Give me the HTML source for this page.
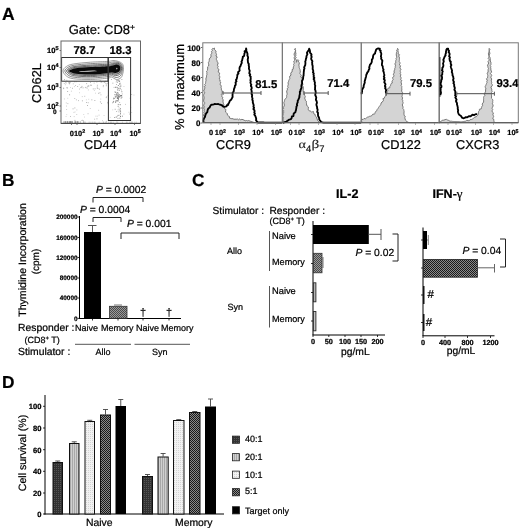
<!DOCTYPE html><html><head><meta charset="utf-8"><style>html,body{margin:0;padding:0;background:#fff}svg{display:block;filter:grayscale(1)}text{text-rendering:geometricPrecision;stroke:#000;stroke-width:.22px}text,tspan{font-family:"Liberation Sans",sans-serif}.sf,.sf tspan{font-family:"Liberation Serif",serif}tspan.sf{font-family:"Liberation Serif",serif}</style></head><body><svg width="520" height="528" viewBox="0 0 520 528">
<defs>
<pattern id="pchk" width="2" height="2" patternUnits="userSpaceOnUse"><rect width="2" height="2" fill="#9a9a9a"/><rect width="1" height="1" fill="#4a4a4a"/><rect x="1" y="1" width="1" height="1" fill="#4a4a4a"/></pattern>
<pattern id="pcross" width="2" height="2" patternUnits="userSpaceOnUse"><rect width="2" height="2" fill="#8a8a8a"/><rect width="1" height="1" fill="#1a1a1a"/><rect x="1" y="1" width="1" height="1" fill="#1a1a1a"/></pattern>
<pattern id="pdark" width="2" height="2" patternUnits="userSpaceOnUse"><rect width="2" height="2" fill="#333"/><rect width="1" height="1" fill="#555"/></pattern>
<pattern id="pvs" width="2" height="2" patternUnits="userSpaceOnUse"><rect width="2" height="2" fill="#d0d0d0"/><rect width="1" height="2" fill="#a8a8a8"/></pattern>
<pattern id="pdot" width="2" height="2" patternUnits="userSpaceOnUse"><rect width="2" height="2" fill="#f2f2f2"/><rect width="1" height="1" fill="#d4d4d4"/></pattern>
</defs>
<rect width="520" height="528" fill="#fff"/>
<g>
<text x="2" y="20.2" font-size="17.5" font-weight="bold" text-anchor="start" fill="#000" class="ss"  >A</text>
<text x="2" y="185.5" font-size="17.3" font-weight="bold" text-anchor="start" fill="#000" class="ss"  >B</text>
<text x="192" y="185.8" font-size="17.3" font-weight="bold" text-anchor="start" fill="#000" class="ss"  >C</text>
<text x="2" y="388.3" font-size="17.3" font-weight="bold" text-anchor="start" fill="#000" class="ss"  >D</text>
<text x="68.7" y="34" font-size="13.0" font-weight="normal" text-anchor="start" fill="#000" class="ss"  >Gate: CD8<tspan font-size="8.5" dy="-4.5">+</tspan></text>
<rect x="87.3" y="86.2" width="0.9" height="0.9" fill="#b4b4b4"/>
<rect x="105.8" y="83.9" width="0.9" height="0.9" fill="#c4c4c4"/>
<rect x="67.3" y="97.8" width="0.9" height="0.9" fill="#d0d0d0"/>
<rect x="67.4" y="103.2" width="0.9" height="0.9" fill="#b4b4b4"/>
<rect x="106.3" y="96.3" width="0.9" height="0.9" fill="#b4b4b4"/>
<rect x="88.4" y="85.5" width="0.9" height="0.9" fill="#a4a4a4"/>
<rect x="89.8" y="108.0" width="0.9" height="0.9" fill="#c4c4c4"/>
<rect x="65.8" y="102.5" width="0.9" height="0.9" fill="#c4c4c4"/>
<rect x="100.2" y="101.8" width="0.9" height="0.9" fill="#d0d0d0"/>
<rect x="100.3" y="98.6" width="0.9" height="0.9" fill="#c4c4c4"/>
<rect x="79.1" y="92.3" width="0.9" height="0.9" fill="#d0d0d0"/>
<rect x="82.7" y="120.2" width="0.9" height="0.9" fill="#a4a4a4"/>
<rect x="94.4" y="100.0" width="0.9" height="0.9" fill="#a4a4a4"/>
<rect x="100.5" y="94.4" width="0.9" height="0.9" fill="#b4b4b4"/>
<rect x="94.2" y="118.7" width="0.9" height="0.9" fill="#b4b4b4"/>
<rect x="95.0" y="92.7" width="0.9" height="0.9" fill="#d0d0d0"/>
<rect x="84.3" y="95.8" width="0.9" height="0.9" fill="#b4b4b4"/>
<rect x="133.5" y="94.6" width="0.9" height="0.9" fill="#d0d0d0"/>
<rect x="74.6" y="111.5" width="0.9" height="0.9" fill="#d0d0d0"/>
<rect x="81.9" y="100.4" width="0.9" height="0.9" fill="#a4a4a4"/>
<rect x="129.3" y="113.6" width="0.9" height="0.9" fill="#a4a4a4"/>
<rect x="116.0" y="120.4" width="0.9" height="0.9" fill="#d0d0d0"/>
<rect x="73.9" y="86.2" width="0.9" height="0.9" fill="#c4c4c4"/>
<rect x="76.3" y="114.1" width="0.9" height="0.9" fill="#c4c4c4"/>
<rect x="107.8" y="95.1" width="0.9" height="0.9" fill="#b4b4b4"/>
<rect x="97.2" y="115.7" width="0.9" height="0.9" fill="#d0d0d0"/>
<rect x="81.8" y="96.2" width="0.9" height="0.9" fill="#c4c4c4"/>
<rect x="79.0" y="88.6" width="0.9" height="0.9" fill="#b4b4b4"/>
<rect x="107.6" y="103.2" width="0.9" height="0.9" fill="#b4b4b4"/>
<rect x="92.8" y="88.5" width="0.9" height="0.9" fill="#a4a4a4"/>
<rect x="85.9" y="99.4" width="0.9" height="0.9" fill="#d0d0d0"/>
<rect x="98.2" y="92.8" width="0.9" height="0.9" fill="#a4a4a4"/>
<rect x="72.6" y="108.4" width="0.9" height="0.9" fill="#a4a4a4"/>
<rect x="87.8" y="102.3" width="0.9" height="0.9" fill="#b4b4b4"/>
<rect x="70.9" y="90.7" width="0.9" height="0.9" fill="#c4c4c4"/>
<rect x="73.5" y="111.9" width="0.9" height="0.9" fill="#c4c4c4"/>
<rect x="123.5" y="113.6" width="0.9" height="0.9" fill="#c4c4c4"/>
<rect x="78.0" y="100.2" width="0.9" height="0.9" fill="#b4b4b4"/>
<rect x="91.4" y="99.4" width="0.9" height="0.9" fill="#a4a4a4"/>
<rect x="96.5" y="118.4" width="0.9" height="0.9" fill="#a4a4a4"/>
<rect x="78.9" y="84.2" width="0.9" height="0.9" fill="#d0d0d0"/>
<rect x="109.8" y="116.9" width="0.9" height="0.9" fill="#d0d0d0"/>
<rect x="131.2" y="94.1" width="0.9" height="0.9" fill="#b4b4b4"/>
<rect x="131.2" y="112.1" width="0.9" height="0.9" fill="#d0d0d0"/>
<rect x="129.7" y="97.8" width="0.9" height="0.9" fill="#b4b4b4"/>
<rect x="81.9" y="119.8" width="0.9" height="0.9" fill="#b4b4b4"/>
<rect x="70.1" y="87.0" width="0.9" height="0.9" fill="#d0d0d0"/>
<rect x="123.5" y="86.0" width="0.9" height="0.9" fill="#d0d0d0"/>
<rect x="69.2" y="94.4" width="0.9" height="0.9" fill="#b4b4b4"/>
<rect x="98.2" y="109.8" width="0.9" height="0.9" fill="#c4c4c4"/>
<rect x="95.5" y="115.7" width="0.9" height="0.9" fill="#c4c4c4"/>
<rect x="98.9" y="88.7" width="0.9" height="0.9" fill="#a4a4a4"/>
<rect x="105.8" y="97.2" width="0.9" height="0.9" fill="#a4a4a4"/>
<rect x="130.3" y="107.2" width="0.9" height="0.9" fill="#d0d0d0"/>
<rect x="70.1" y="116.0" width="0.9" height="0.9" fill="#b4b4b4"/>
<rect x="128.5" y="111.8" width="0.9" height="0.9" fill="#c4c4c4"/>
<rect x="75.9" y="99.4" width="0.9" height="0.9" fill="#b4b4b4"/>
<rect x="99.9" y="101.3" width="0.9" height="0.9" fill="#b4b4b4"/>
<rect x="65.0" y="82.3" width="0.9" height="0.9" fill="#b4b4b4"/>
<rect x="101.1" y="103.0" width="0.9" height="0.9" fill="#b4b4b4"/>
<rect x="87.1" y="105.1" width="0.9" height="0.9" fill="#a4a4a4"/>
<rect x="107.3" y="101.9" width="0.9" height="0.9" fill="#a4a4a4"/>
<rect x="84.0" y="116.6" width="0.9" height="0.9" fill="#d0d0d0"/>
<rect x="74.3" y="98.1" width="0.9" height="0.9" fill="#b4b4b4"/>
<rect x="99.5" y="92.4" width="0.9" height="0.9" fill="#a4a4a4"/>
<rect x="73.7" y="116.2" width="0.9" height="0.9" fill="#c4c4c4"/>
<rect x="119.0" y="83.9" width="0.9" height="0.9" fill="#c4c4c4"/>
<rect x="83.3" y="114.1" width="0.9" height="0.9" fill="#d0d0d0"/>
<rect x="96.9" y="88.0" width="0.9" height="0.9" fill="#b4b4b4"/>
<rect x="88.3" y="98.8" width="0.9" height="0.9" fill="#d0d0d0"/>
<rect x="66.0" y="105.6" width="0.9" height="0.9" fill="#c4c4c4"/>
<rect x="64.9" y="84.3" width="0.9" height="0.9" fill="#c4c4c4"/>
<rect x="105.8" y="85.3" width="0.9" height="0.9" fill="#a4a4a4"/>
<rect x="86.2" y="102.0" width="0.9" height="0.9" fill="#a4a4a4"/>
<rect x="69.7" y="82.4" width="0.9" height="0.9" fill="#d0d0d0"/>
<rect x="67.2" y="91.0" width="0.9" height="0.9" fill="#a4a4a4"/>
<rect x="103.6" y="115.1" width="0.9" height="0.9" fill="#d0d0d0"/>
<rect x="106.0" y="120.8" width="0.9" height="0.9" fill="#c4c4c4"/>
<rect x="66.2" y="109.1" width="0.9" height="0.9" fill="#c4c4c4"/>
<rect x="82.6" y="87.4" width="0.9" height="0.9" fill="#a4a4a4"/>
<rect x="94.6" y="88.4" width="0.9" height="0.9" fill="#a4a4a4"/>
<rect x="63.7" y="80.7" width="0.9" height="0.9" fill="#c4c4c4"/>
<rect x="93.9" y="90.1" width="0.9" height="0.9" fill="#d0d0d0"/>
<rect x="112.2" y="102.4" width="0.9" height="0.9" fill="#a4a4a4"/>
<rect x="102.1" y="120.3" width="0.9" height="0.9" fill="#c4c4c4"/>
<rect x="69.1" y="94.2" width="0.9" height="0.9" fill="#b4b4b4"/>
<rect x="65.6" y="116.1" width="0.9" height="0.9" fill="#d0d0d0"/>
<rect x="74.4" y="107.5" width="0.9" height="0.9" fill="#a4a4a4"/>
<rect x="63.2" y="87.6" width="0.9" height="0.9" fill="#a4a4a4"/>
<rect x="74.5" y="119.9" width="0.9" height="0.9" fill="#a4a4a4"/>
<rect x="66.9" y="87.5" width="0.9" height="0.9" fill="#a4a4a4"/>
<rect x="63.2" y="88.2" width="0.9" height="0.9" fill="#a4a4a4"/>
<rect x="81.5" y="85.9" width="0.9" height="0.9" fill="#a4a4a4"/>
<rect x="87.9" y="89.5" width="0.9" height="0.9" fill="#c4c4c4"/>
<rect x="112.3" y="109.4" width="0.9" height="0.9" fill="#d0d0d0"/>
<rect x="76.4" y="109.5" width="0.9" height="0.9" fill="#c4c4c4"/>
<rect x="66.3" y="114.2" width="0.9" height="0.9" fill="#d0d0d0"/>
<rect x="87.6" y="113.3" width="0.9" height="0.9" fill="#b4b4b4"/>
<rect x="125.0" y="103.9" width="0.9" height="0.9" fill="#c4c4c4"/>
<rect x="69.4" y="81.7" width="0.9" height="0.9" fill="#b4b4b4"/>
<rect x="63.9" y="98.5" width="0.9" height="0.9" fill="#c4c4c4"/>
<rect x="99.7" y="80.1" width="0.9" height="0.9" fill="#b4b4b4"/>
<rect x="112.4" y="82.7" width="0.9" height="0.9" fill="#a4a4a4"/>
<rect x="98.6" y="114.7" width="0.9" height="0.9" fill="#c4c4c4"/>
<rect x="81.0" y="120.0" width="0.9" height="0.9" fill="#d0d0d0"/>
<rect x="104.0" y="81.6" width="0.9" height="0.9" fill="#999"/>
<rect x="90.8" y="84.8" width="0.9" height="0.9" fill="#999"/>
<rect x="90.0" y="82.0" width="0.9" height="0.9" fill="#bbb"/>
<rect x="96.4" y="81.7" width="0.9" height="0.9" fill="#bbb"/>
<rect x="69.0" y="83.3" width="0.9" height="0.9" fill="#aaa"/>
<rect x="75.1" y="85.0" width="0.9" height="0.9" fill="#bbb"/>
<rect x="72.8" y="83.4" width="0.9" height="0.9" fill="#bbb"/>
<rect x="86.2" y="83.2" width="0.9" height="0.9" fill="#aaa"/>
<rect x="97.5" y="87.9" width="0.9" height="0.9" fill="#bbb"/>
<rect x="72.0" y="87.8" width="0.9" height="0.9" fill="#aaa"/>
<rect x="63.8" y="83.1" width="0.9" height="0.9" fill="#bbb"/>
<rect x="106.6" y="83.0" width="0.9" height="0.9" fill="#aaa"/>
<rect x="80.4" y="87.2" width="0.9" height="0.9" fill="#999"/>
<rect x="66.4" y="79.8" width="0.9" height="0.9" fill="#bbb"/>
<rect x="86.6" y="87.6" width="0.9" height="0.9" fill="#999"/>
<rect x="90.2" y="84.7" width="0.9" height="0.9" fill="#aaa"/>
<rect x="102.9" y="85.3" width="0.9" height="0.9" fill="#999"/>
<rect x="85.4" y="86.9" width="0.9" height="0.9" fill="#aaa"/>
<rect x="64.1" y="79.0" width="0.9" height="0.9" fill="#aaa"/>
<rect x="93.7" y="82.6" width="0.9" height="0.9" fill="#bbb"/>
<rect x="69.3" y="82.1" width="0.9" height="0.9" fill="#aaa"/>
<rect x="68.4" y="82.0" width="0.9" height="0.9" fill="#aaa"/>
<rect x="96.8" y="86.6" width="0.9" height="0.9" fill="#999"/>
<rect x="105.3" y="80.8" width="0.9" height="0.9" fill="#999"/>
<rect x="103.6" y="81.6" width="0.9" height="0.9" fill="#aaa"/>
<rect x="65.9" y="82.5" width="0.9" height="0.9" fill="#bbb"/>
<rect x="66.4" y="87.3" width="0.9" height="0.9" fill="#aaa"/>
<rect x="101.4" y="81.5" width="0.9" height="0.9" fill="#999"/>
<rect x="100.6" y="81.6" width="0.9" height="0.9" fill="#999"/>
<rect x="74.2" y="81.4" width="0.9" height="0.9" fill="#bbb"/>
<rect x="77.2" y="86.0" width="0.9" height="0.9" fill="#aaa"/>
<rect x="102.8" y="86.3" width="0.9" height="0.9" fill="#bbb"/>
<rect x="81.0" y="86.9" width="0.9" height="0.9" fill="#bbb"/>
<rect x="87.7" y="85.5" width="0.9" height="0.9" fill="#999"/>
<rect x="105.0" y="82.7" width="0.9" height="0.9" fill="#bbb"/>
<rect x="96.9" y="84.8" width="0.9" height="0.9" fill="#aaa"/>
<rect x="84.9" y="87.2" width="0.9" height="0.9" fill="#bbb"/>
<rect x="68.7" y="83.2" width="0.9" height="0.9" fill="#aaa"/>
<rect x="75.7" y="81.3" width="0.9" height="0.9" fill="#bbb"/>
<rect x="106.9" y="81.3" width="0.9" height="0.9" fill="#bbb"/>
<rect x="117.7" y="105.8" width="0.9" height="0.9" fill="#777"/>
<rect x="120.5" y="85.7" width="0.9" height="0.9" fill="#999"/>
<rect x="120.2" y="111.5" width="0.9" height="0.9" fill="#999"/>
<rect x="118.9" y="97.1" width="0.9" height="0.9" fill="#aaa"/>
<rect x="120.3" y="84.6" width="0.9" height="0.9" fill="#999"/>
<rect x="117.4" y="88.8" width="0.9" height="0.9" fill="#999"/>
<rect x="116.9" y="88.6" width="0.9" height="0.9" fill="#aaa"/>
<rect x="118.5" y="111.4" width="0.9" height="0.9" fill="#999"/>
<rect x="120.8" y="95.5" width="0.9" height="0.9" fill="#666"/>
<rect x="114.7" y="108.8" width="0.9" height="0.9" fill="#999"/>
<rect x="115.8" y="81.5" width="0.9" height="0.9" fill="#aaa"/>
<rect x="119.2" y="102.0" width="0.9" height="0.9" fill="#aaa"/>
<rect x="119.7" y="104.2" width="0.9" height="0.9" fill="#999"/>
<rect x="119.7" y="82.7" width="0.9" height="0.9" fill="#999"/>
<rect x="114.7" y="96.3" width="0.9" height="0.9" fill="#aaa"/>
<rect x="120.0" y="112.9" width="0.9" height="0.9" fill="#777"/>
<rect x="119.4" y="109.5" width="0.9" height="0.9" fill="#666"/>
<rect x="119.5" y="117.7" width="0.9" height="0.9" fill="#666"/>
<rect x="120.1" y="116.1" width="0.9" height="0.9" fill="#666"/>
<rect x="117.5" y="117.9" width="0.9" height="0.9" fill="#999"/>
<rect x="117.9" y="85.1" width="0.9" height="0.9" fill="#777"/>
<rect x="115.7" y="116.7" width="0.9" height="0.9" fill="#666"/>
<rect x="121.4" y="79.1" width="0.9" height="0.9" fill="#999"/>
<rect x="119.8" y="88.3" width="0.9" height="0.9" fill="#777"/>
<rect x="116.1" y="84.1" width="0.9" height="0.9" fill="#aaa"/>
<rect x="115.7" y="100.1" width="0.9" height="0.9" fill="#666"/>
<rect x="117.1" y="81.8" width="0.9" height="0.9" fill="#999"/>
<rect x="116.3" y="94.5" width="0.9" height="0.9" fill="#999"/>
<rect x="117.5" y="100.5" width="0.9" height="0.9" fill="#666"/>
<rect x="117.4" y="90.1" width="0.9" height="0.9" fill="#aaa"/>
<rect x="114.2" y="98.0" width="0.9" height="0.9" fill="#999"/>
<rect x="113.2" y="100.9" width="0.9" height="0.9" fill="#777"/>
<rect x="121.4" y="91.3" width="0.9" height="0.9" fill="#777"/>
<rect x="116.5" y="86.8" width="0.9" height="0.9" fill="#666"/>
<rect x="119.1" y="96.0" width="0.9" height="0.9" fill="#aaa"/>
<rect x="118.4" y="88.1" width="0.9" height="0.9" fill="#777"/>
<rect x="116.1" y="93.5" width="0.9" height="0.9" fill="#666"/>
<rect x="113.6" y="86.9" width="0.9" height="0.9" fill="#aaa"/>
<rect x="117.3" y="87.2" width="0.9" height="0.9" fill="#999"/>
<rect x="114.4" y="91.5" width="0.9" height="0.9" fill="#999"/>
<rect x="117.7" y="109.4" width="0.9" height="0.9" fill="#aaa"/>
<rect x="119.3" y="83.4" width="0.9" height="0.9" fill="#666"/>
<rect x="113.2" y="98.4" width="0.9" height="0.9" fill="#777"/>
<rect x="114.0" y="117.0" width="0.9" height="0.9" fill="#999"/>
<rect x="118.3" y="79.9" width="0.9" height="0.9" fill="#999"/>
<rect x="117.1" y="95.6" width="0.9" height="0.9" fill="#777"/>
<rect x="118.6" y="107.5" width="0.9" height="0.9" fill="#aaa"/>
<rect x="120.1" y="108.3" width="0.9" height="0.9" fill="#777"/>
<rect x="119.6" y="86.4" width="0.9" height="0.9" fill="#666"/>
<rect x="116.5" y="80.3" width="0.9" height="0.9" fill="#666"/>
<rect x="121.5" y="96.7" width="0.9" height="0.9" fill="#777"/>
<rect x="111.1" y="79.1" width="0.9" height="0.9" fill="#aaa"/>
<rect x="119.9" y="114.4" width="0.9" height="0.9" fill="#999"/>
<rect x="118.8" y="94.2" width="0.9" height="0.9" fill="#aaa"/>
<rect x="118.7" y="81.0" width="0.9" height="0.9" fill="#666"/>
<rect x="115.0" y="86.8" width="0.9" height="0.9" fill="#666"/>
<rect x="118.4" y="114.9" width="0.9" height="0.9" fill="#777"/>
<rect x="119.8" y="104.3" width="0.9" height="0.9" fill="#999"/>
<rect x="119.2" y="80.6" width="0.9" height="0.9" fill="#777"/>
<rect x="113.4" y="97.6" width="0.9" height="0.9" fill="#777"/>
<rect x="117.3" y="114.9" width="0.9" height="0.9" fill="#aaa"/>
<rect x="121.8" y="93.5" width="0.9" height="0.9" fill="#aaa"/>
<rect x="121.0" y="89.5" width="0.9" height="0.9" fill="#aaa"/>
<rect x="116.6" y="116.0" width="0.9" height="0.9" fill="#aaa"/>
<rect x="121.9" y="115.7" width="0.9" height="0.9" fill="#777"/>
<rect x="117.6" y="80.0" width="0.9" height="0.9" fill="#999"/>
<rect x="120.7" y="97.6" width="0.9" height="0.9" fill="#666"/>
<rect x="120.1" y="110.6" width="0.9" height="0.9" fill="#666"/>
<rect x="118.0" y="98.9" width="0.9" height="0.9" fill="#777"/>
<rect x="116.2" y="111.1" width="0.9" height="0.9" fill="#aaa"/>
<rect x="118.9" y="89.8" width="0.9" height="0.9" fill="#888"/>
<rect x="117.8" y="103.9" width="0.9" height="0.9" fill="#777"/>
<rect x="115.5" y="101.3" width="0.9" height="0.9" fill="#555"/>
<rect x="115.7" y="95.7" width="0.9" height="0.9" fill="#555"/>
<rect x="117.5" y="97.5" width="0.9" height="0.9" fill="#555"/>
<rect x="115.3" y="96.6" width="0.9" height="0.9" fill="#555"/>
<rect x="121.2" y="95.0" width="0.9" height="0.9" fill="#555"/>
<rect x="117.4" y="97.7" width="0.9" height="0.9" fill="#555"/>
<rect x="112.8" y="101.7" width="0.9" height="0.9" fill="#777"/>
<rect x="117.9" y="97.9" width="0.9" height="0.9" fill="#777"/>
<rect x="115.5" y="91.9" width="0.9" height="0.9" fill="#888"/>
<rect x="114.5" y="94.3" width="0.9" height="0.9" fill="#555"/>
<rect x="117.8" y="92.7" width="0.9" height="0.9" fill="#777"/>
<rect x="115.9" y="94.4" width="0.9" height="0.9" fill="#888"/>
<rect x="117.4" y="100.3" width="0.9" height="0.9" fill="#555"/>
<rect x="117.5" y="98.3" width="0.9" height="0.9" fill="#888"/>
<rect x="117.7" y="97.4" width="0.9" height="0.9" fill="#777"/>
<rect x="119.6" y="95.8" width="0.9" height="0.9" fill="#555"/>
<rect x="117.0" y="94.5" width="0.9" height="0.9" fill="#777"/>
<rect x="118.3" y="95.9" width="0.9" height="0.9" fill="#777"/>
<rect x="118.5" y="94.1" width="0.9" height="0.9" fill="#777"/>
<rect x="117.9" y="95.4" width="0.9" height="0.9" fill="#777"/>
<rect x="117.6" y="97.3" width="0.9" height="0.9" fill="#888"/>
<rect x="119.8" y="95.1" width="0.9" height="0.9" fill="#555"/>
<rect x="115.0" y="101.8" width="0.9" height="0.9" fill="#777"/>
<rect x="115.0" y="91.8" width="0.9" height="0.9" fill="#888"/>
<rect x="118.3" y="95.4" width="0.9" height="0.9" fill="#888"/>
<rect x="117.1" y="92.4" width="0.9" height="0.9" fill="#555"/>
<rect x="116.8" y="97.6" width="0.9" height="0.9" fill="#555"/>
<rect x="118.0" y="96.0" width="0.9" height="0.9" fill="#888"/>
<rect x="76.7" y="121.6" width="1.1" height="0.9" fill="#777"/>
<rect x="67.3" y="121.6" width="1.1" height="0.9" fill="#777"/>
<rect x="63.2" y="121.6" width="1.1" height="0.9" fill="#777"/>
<rect x="69.9" y="121.6" width="1.1" height="0.9" fill="#777"/>
<rect x="77.2" y="121.6" width="1.1" height="0.9" fill="#777"/>
<rect x="66.9" y="121.6" width="1.1" height="0.9" fill="#777"/>
<rect x="69.6" y="121.6" width="1.1" height="0.9" fill="#777"/>
<rect x="67.3" y="121.6" width="1.1" height="0.9" fill="#777"/>
<rect x="79.7" y="121.6" width="1.1" height="0.9" fill="#777"/>
<rect x="74.5" y="121.6" width="1.1" height="0.9" fill="#777"/>
<rect x="64.3" y="121.6" width="1.1" height="0.9" fill="#777"/>
<rect x="65.1" y="121.6" width="1.1" height="0.9" fill="#777"/>
<rect x="71.3" y="121.6" width="1.1" height="0.9" fill="#777"/>
<rect x="74.6" y="121.6" width="1.1" height="0.9" fill="#777"/>
<rect x="76.4" y="121.6" width="1.1" height="0.9" fill="#777"/>
<rect x="64.9" y="121.6" width="1.1" height="0.9" fill="#777"/>
<rect x="66.4" y="121.6" width="1.1" height="0.9" fill="#777"/>
<rect x="77.6" y="121.6" width="1.1" height="0.9" fill="#777"/>
<rect x="71.6" y="121.6" width="1.1" height="0.9" fill="#777"/>
<rect x="68.9" y="121.6" width="1.1" height="0.9" fill="#777"/>
<rect x="69.5" y="121.6" width="1.1" height="0.9" fill="#777"/>
<rect x="83.0" y="121.6" width="1.1" height="0.9" fill="#777"/>
<rect x="69.6" y="121.6" width="1.1" height="0.9" fill="#777"/>
<rect x="74.9" y="121.6" width="1.1" height="0.9" fill="#777"/>
<rect x="70.5" y="121.6" width="1.1" height="0.9" fill="#777"/>
<rect x="71.7" y="121.6" width="1.1" height="0.9" fill="#777"/>
<rect x="128.9" y="121.8" width="0.9" height="0.7" fill="#aaa"/>
<rect x="135.8" y="121.8" width="0.9" height="0.7" fill="#aaa"/>
<rect x="102.9" y="121.8" width="0.9" height="0.7" fill="#aaa"/>
<rect x="94.3" y="121.8" width="0.9" height="0.7" fill="#aaa"/>
<rect x="121.9" y="121.8" width="0.9" height="0.7" fill="#aaa"/>
<rect x="94.6" y="121.8" width="0.9" height="0.7" fill="#aaa"/>
<rect x="84.3" y="121.8" width="0.9" height="0.7" fill="#aaa"/>
<rect x="130.9" y="121.8" width="0.9" height="0.7" fill="#aaa"/>
<rect x="106.0" y="121.8" width="0.9" height="0.7" fill="#aaa"/>
<rect x="126.7" y="121.8" width="0.9" height="0.7" fill="#aaa"/>
<rect x="105.1" y="121.8" width="0.9" height="0.7" fill="#aaa"/>
<rect x="129.9" y="121.8" width="0.9" height="0.7" fill="#aaa"/>
<rect x="108.0" y="121.8" width="0.9" height="0.7" fill="#aaa"/>
<rect x="92.5" y="121.8" width="0.9" height="0.7" fill="#aaa"/>
<rect x="84.8" y="121.8" width="0.9" height="0.7" fill="#aaa"/>
<rect x="112.7" y="121.8" width="0.9" height="0.7" fill="#aaa"/>
<rect x="117.3" y="121.8" width="0.9" height="0.7" fill="#aaa"/>
<rect x="131.3" y="121.8" width="0.9" height="0.7" fill="#aaa"/>
<rect x="88.6" y="121.8" width="0.9" height="0.7" fill="#aaa"/>
<rect x="116.4" y="121.8" width="0.9" height="0.7" fill="#aaa"/>
<rect x="103.3" y="121.8" width="0.9" height="0.7" fill="#aaa"/>
<rect x="110.2" y="121.8" width="0.9" height="0.7" fill="#aaa"/>
<rect x="91.6" y="121.8" width="0.9" height="0.7" fill="#aaa"/>
<rect x="98.7" y="121.8" width="0.9" height="0.7" fill="#aaa"/>
<rect x="111.1" y="121.8" width="0.9" height="0.7" fill="#aaa"/>
<rect x="132.1" y="121.8" width="0.9" height="0.7" fill="#aaa"/>
<rect x="89.7" y="121.8" width="0.9" height="0.7" fill="#aaa"/>
<rect x="109.5" y="121.8" width="0.9" height="0.7" fill="#aaa"/>
<rect x="125.9" y="121.8" width="0.9" height="0.7" fill="#aaa"/>
<rect x="134.3" y="121.8" width="0.9" height="0.7" fill="#aaa"/>
<path d="M63.00,70.90 C63.00,69.32 64.68,67.65 66.40,66.50 C68.12,65.35 69.27,64.72 73.30,64.00 C77.33,63.28 84.82,62.63 90.60,62.20 C96.38,61.77 104.27,61.68 108.00,61.40 C111.73,61.12 111.28,60.50 113.00,60.50 C114.72,60.50 116.70,60.82 118.30,61.40 C119.90,61.98 121.73,62.72 122.60,64.00 C123.47,65.28 123.50,67.38 123.50,69.10 C123.50,70.82 123.03,72.85 122.60,74.30 C122.17,75.75 121.92,76.93 120.90,77.80 C119.88,78.67 118.08,79.63 116.50,79.50 C114.92,79.37 112.82,77.23 111.40,77.00 C109.98,76.77 111.47,77.68 108.00,78.10 C104.53,78.52 96.38,79.40 90.60,79.50 C84.82,79.60 77.33,79.28 73.30,78.70 C69.27,78.12 68.12,77.30 66.40,76.00 C64.68,74.70 63.00,72.48 63.00,70.90 Z" fill="#fff" stroke="#777" stroke-width="0.7"/>
<path d="M64.80,70.90 C64.80,69.64 66.38,68.31 67.93,67.37 C69.48,66.43 70.33,65.88 74.11,65.26 C77.89,64.64 84.95,64.07 90.60,63.67 C96.25,63.27 104.29,63.15 108.00,62.87 C111.71,62.59 111.20,62.06 112.85,61.97 C114.50,61.88 116.44,61.87 117.91,62.30 C119.38,62.73 120.93,63.44 121.70,64.54 C122.47,65.64 122.55,67.44 122.54,68.92 C122.53,70.40 122.08,72.18 121.64,73.40 C121.20,74.62 120.84,75.55 119.91,76.24 C118.98,76.93 117.44,77.62 116.05,77.52 C114.66,77.42 112.92,75.78 111.58,75.62 C110.24,75.46 111.50,76.14 108.00,76.54 C104.50,76.94 96.25,77.91 90.60,78.03 C84.95,78.15 77.89,77.74 74.11,77.23 C70.33,76.72 69.48,76.00 67.93,74.95 C66.38,73.90 64.80,72.16 64.80,70.90 Z" fill="#fff" stroke="#555" stroke-width="0.7"/>
<path d="M66.48,70.90 C66.48,69.94 67.96,68.93 69.36,68.18 C70.76,67.44 71.33,66.96 74.87,66.44 C78.41,65.91 85.08,65.41 90.60,65.04 C96.12,64.68 104.31,64.53 108.00,64.24 C111.69,63.96 111.12,63.53 112.71,63.34 C114.30,63.16 116.19,62.86 117.55,63.14 C118.90,63.42 120.18,64.11 120.86,65.04 C121.54,65.98 121.66,67.50 121.64,68.75 C121.62,70.00 121.19,71.55 120.74,72.56 C120.30,73.57 119.84,74.27 118.99,74.78 C118.13,75.30 116.84,75.75 115.63,75.67 C114.42,75.60 113.02,74.43 111.75,74.33 C110.48,74.23 111.52,74.70 108.00,75.08 C104.48,75.47 96.12,76.53 90.60,76.66 C85.08,76.79 78.41,76.31 74.87,75.86 C71.33,75.41 70.76,74.80 69.36,73.97 C67.96,73.14 66.48,71.86 66.48,70.90 Z" fill="#eee" stroke="#333" stroke-width="0.7"/>
<path d="M67.80,70.90 C67.80,70.17 69.20,69.41 70.48,68.82 C71.76,68.23 72.11,67.81 75.46,67.36 C78.81,66.91 85.18,66.46 90.60,66.12 C96.02,65.78 104.33,65.60 108.00,65.32 C111.67,65.04 111.06,64.67 112.60,64.42 C114.14,64.17 115.99,63.63 117.26,63.80 C118.53,63.97 119.59,64.64 120.20,65.44 C120.81,66.24 120.97,67.54 120.94,68.62 C120.91,69.70 120.49,71.06 120.04,71.90 C119.59,72.74 119.05,73.25 118.26,73.64 C117.47,74.03 116.36,74.27 115.30,74.22 C114.24,74.17 113.10,73.37 111.88,73.32 C110.66,73.27 111.55,73.56 108.00,73.94 C104.45,74.32 96.02,75.44 90.60,75.58 C85.18,75.72 78.81,75.18 75.46,74.78 C72.11,74.38 71.76,73.85 70.48,73.20 C69.20,72.55 67.80,71.63 67.80,70.90 Z" fill="#aaa" stroke="#222" stroke-width="0.6"/>
<path d="M69.00,70.90 C69.00,70.38 70.33,69.85 71.50,69.40 C72.67,68.95 72.82,68.58 76.00,68.20 C79.18,67.82 85.27,67.42 90.60,67.10 C95.93,66.78 104.35,66.58 108.00,66.30 C111.65,66.02 111.00,65.72 112.50,65.40 C114.00,65.08 115.82,64.33 117.00,64.40 C118.18,64.47 119.05,65.12 119.60,65.80 C120.15,66.48 120.33,67.58 120.30,68.50 C120.27,69.42 119.85,70.62 119.40,71.30 C118.95,71.98 118.33,72.33 117.60,72.60 C116.87,72.87 115.93,72.93 115.00,72.90 C114.07,72.87 113.17,72.40 112.00,72.40 C110.83,72.40 111.57,72.53 108.00,72.90 C104.43,73.27 95.93,74.45 90.60,74.60 C85.27,74.75 79.18,74.15 76.00,73.80 C72.82,73.45 72.67,72.98 71.50,72.50 C70.33,72.02 69.00,71.42 69.00,70.90 Z" fill="#0a0a0a" stroke="none" stroke-width="0"/>
<ellipse cx="88" cy="71.2" rx="9" ry="0.5" fill="#e0e0e0" transform="rotate(-2 88 71.2)"/>
<ellipse cx="116.8" cy="68.6" rx="0.7" ry="0.8" fill="#bbb"/>
<rect x="61.6" y="57.5" width="46.4" height="23.7" fill="none" stroke="#333" stroke-width="1" />
<rect x="108.4" y="57.5" width="22.2" height="63" fill="none" stroke="#333" stroke-width="1" />
<rect x="61" y="41" width="79.5" height="82.4" fill="none" stroke="#666" stroke-width="1" />
<line x1="61" y1="123.4" x2="140.5" y2="123.4" stroke="#444" stroke-width="1" />
<text x="73.4" y="54" font-size="11.3" font-weight="bold" text-anchor="start" fill="#000" class="ss"  >78.7</text>
<text x="109.5" y="54" font-size="11.3" font-weight="bold" text-anchor="start" fill="#000" class="ss"  >18.3</text>
<text x="58.5" y="53.2" font-size="7.6" font-weight="bold" text-anchor="end" fill="#000" class="ss"  >10<tspan font-size="5.5" dy="-2.8">5</tspan></text>
<text x="58.5" y="70.2" font-size="7.6" font-weight="bold" text-anchor="end" fill="#000" class="ss"  >10<tspan font-size="5.5" dy="-2.8">4</tspan></text>
<text x="58.5" y="90.2" font-size="7.6" font-weight="bold" text-anchor="end" fill="#000" class="ss"  >10<tspan font-size="5.5" dy="-2.8">3</tspan></text>
<text x="58.5" y="108.7" font-size="7.6" font-weight="bold" text-anchor="end" fill="#000" class="ss"  >10<tspan font-size="5.5" dy="-2.8">2</tspan></text>
<text x="56.5" y="113.5" font-size="6.5" font-weight="bold" text-anchor="end" fill="#000" class="ss"  >0</text>
<text x="69.8" y="135.6" font-size="7.4" font-weight="bold" text-anchor="start" fill="#000" class="ss"  >010<tspan font-size="5.3" dy="-2.8">2</tspan></text>
<text x="92.4" y="135.6" font-size="7.4" font-weight="bold" text-anchor="start" fill="#000" class="ss"  >10<tspan font-size="5.3" dy="-2.8">3</tspan></text>
<text x="110" y="135.6" font-size="7.4" font-weight="bold" text-anchor="start" fill="#000" class="ss"  >10<tspan font-size="5.3" dy="-2.8">4</tspan></text>
<text x="129.4" y="135.6" font-size="7.4" font-weight="bold" text-anchor="start" fill="#000" class="ss"  >10<tspan font-size="5.3" dy="-2.8">5</tspan></text>
<text x="84" y="149" font-size="12.8" font-weight="normal" text-anchor="start" fill="#000" class="ss"  >CD44</text>
<text transform="translate(40.5,83) rotate(-90)" font-size="12.8" text-anchor="middle" class="ss">CD62L</text>
<line x1="59.5" y1="50.5" x2="61" y2="50.5" stroke="#555" stroke-width="0.8" />
<line x1="59.5" y1="67.5" x2="61" y2="67.5" stroke="#555" stroke-width="0.8" />
<line x1="59.5" y1="87.5" x2="61" y2="87.5" stroke="#555" stroke-width="0.8" />
<line x1="59.5" y1="106" x2="61" y2="106" stroke="#555" stroke-width="0.8" />
<line x1="59.5" y1="111" x2="61" y2="111" stroke="#555" stroke-width="0.8" />
<line x1="71.5" y1="123.4" x2="71.5" y2="125" stroke="#555" stroke-width="0.8" />
<line x1="77" y1="123.4" x2="77" y2="125" stroke="#555" stroke-width="0.8" />
<line x1="97" y1="123.4" x2="97" y2="125" stroke="#555" stroke-width="0.8" />
<line x1="115" y1="123.4" x2="115" y2="125" stroke="#555" stroke-width="0.8" />
<line x1="134.5" y1="123.4" x2="134.5" y2="125" stroke="#555" stroke-width="0.8" />
<text transform="translate(183.5,87) rotate(-90)" font-size="13" text-anchor="middle" class="ss">% of maximum</text>
<text x="200.5" y="50.5" font-size="8" font-weight="bold" text-anchor="end" fill="#000" class="ss"  >100</text>
<line x1="201" y1="47.5" x2="202.5" y2="47.5" stroke="#444" stroke-width="0.8" />
<text x="200.5" y="65.5" font-size="8" font-weight="bold" text-anchor="end" fill="#000" class="ss"  >80</text>
<line x1="201" y1="62.5" x2="202.5" y2="62.5" stroke="#444" stroke-width="0.8" />
<text x="200.5" y="80.5" font-size="8" font-weight="bold" text-anchor="end" fill="#000" class="ss"  >60</text>
<line x1="201" y1="77.5" x2="202.5" y2="77.5" stroke="#444" stroke-width="0.8" />
<text x="200.5" y="95.5" font-size="8" font-weight="bold" text-anchor="end" fill="#000" class="ss"  >40</text>
<line x1="201" y1="92.5" x2="202.5" y2="92.5" stroke="#444" stroke-width="0.8" />
<text x="200.5" y="111" font-size="8" font-weight="bold" text-anchor="end" fill="#000" class="ss"  >20</text>
<line x1="201" y1="108" x2="202.5" y2="108" stroke="#444" stroke-width="0.8" />
<text x="200.5" y="126" font-size="8" font-weight="bold" text-anchor="end" fill="#000" class="ss"  >0</text>
<line x1="201" y1="123" x2="202.5" y2="123" stroke="#444" stroke-width="0.8" />
<polygon points="203.88,122.60 203.88,122.81 203.90,121.67 203.45,120.54 203.36,119.40 204.60,118.28 204.66,117.15 203.93,116.00 203.30,114.86 204.62,113.74 203.82,112.60 204.61,111.47 204.20,110.34 204.51,109.21 203.53,108.06 204.48,106.94 203.65,105.79 203.93,104.66 204.61,103.54 204.59,102.40 203.64,101.26 203.70,100.12 203.98,98.99 204.17,97.86 203.98,96.72 203.61,95.59 203.80,94.45 204.53,93.33 204.80,92.20 203.53,91.05 204.23,89.92 204.52,88.86 205.00,87.83 204.13,86.56 205.51,85.69 204.64,84.41 205.55,83.46 205.67,82.36 205.79,81.27 206.13,80.19 205.82,79.03 206.14,77.95 206.54,76.88 206.46,75.75 206.97,74.69 206.81,73.55 206.96,72.44 206.50,71.26 207.54,70.28 207.52,69.15 207.72,68.07 207.56,66.91 208.56,65.99 208.80,64.91 208.54,63.73 208.35,62.57 208.99,61.57 209.25,60.50 209.30,59.08 209.91,57.94 210.98,57.04 211.10,55.94 210.81,54.75 211.54,53.78 211.86,52.71 211.39,51.49 212.48,50.59 211.88,49.34 212.71,48.38 213.65,48.55 214.44,48.04 214.39,49.27 215.12,50.26 216.12,51.16 215.82,52.47 216.17,53.58 216.55,54.70 215.89,56.00 217.29,56.95 216.41,58.28 216.40,59.47 216.98,60.56 217.05,61.73 218.16,62.73 217.90,63.96 217.33,65.21 218.20,66.27 217.66,67.51 217.86,68.65 219.12,69.67 218.34,70.94 218.27,72.12 219.70,73.11 219.42,74.32 218.96,75.55 220.00,76.59 219.63,77.81 219.20,78.99 220.28,79.96 219.64,81.18 220.79,82.14 220.42,83.32 219.96,84.51 221.17,85.46 221.25,86.57 221.04,87.72 221.48,88.78 221.37,89.92 222.21,90.93 222.15,92.06 222.34,93.16 221.35,94.42 221.89,95.47 221.72,96.62 222.96,97.56 222.20,98.79 223.35,99.75 222.89,100.94 223.10,102.04 223.22,103.18 223.95,104.14 223.53,105.44 224.31,106.39 224.60,107.48 224.49,108.69 225.94,109.44 225.69,110.69 225.55,112.06 226.56,112.86 227.39,113.74 227.37,115.05 228.29,115.88 229.40,116.50 229.50,118.14 230.88,118.48 231.90,118.77 233.00,118.62 233.93,119.39 235.05,119.09 236.08,119.35 237.25,118.92 238.37,119.83 239.57,118.84 240.67,120.06 241.86,119.27 243.00,119.69 244.11,120.13 245.17,120.87 246.44,120.51 247.57,120.86 248.82,120.57 249.92,121.08 250.96,121.42 252.00,121.77 253.04,122.12 254.08,122.46 255.12,122.60 255.12,122.60" fill="#d4d4d4" stroke="none" stroke-width="0" stroke-linejoin="round" />
<polyline points="203.88,122.81 203.90,121.67 203.45,120.54 203.36,119.40 204.60,118.28 204.66,117.15 203.93,116.00 203.30,114.86 204.62,113.74 203.82,112.60 204.61,111.47 204.20,110.34 204.51,109.21 203.53,108.06 204.48,106.94 203.65,105.79 203.93,104.66 204.61,103.54 204.59,102.40 203.64,101.26 203.70,100.12 203.98,98.99 204.17,97.86 203.98,96.72 203.61,95.59 203.80,94.45 204.53,93.33 204.80,92.20 203.53,91.05 204.23,89.92 204.52,88.86 205.00,87.83 204.13,86.56 205.51,85.69 204.64,84.41 205.55,83.46 205.67,82.36 205.79,81.27 206.13,80.19 205.82,79.03 206.14,77.95 206.54,76.88 206.46,75.75 206.97,74.69 206.81,73.55 206.96,72.44 206.50,71.26 207.54,70.28 207.52,69.15 207.72,68.07 207.56,66.91 208.56,65.99 208.80,64.91 208.54,63.73 208.35,62.57 208.99,61.57 209.25,60.50 209.30,59.08 209.91,57.94 210.98,57.04 211.10,55.94 210.81,54.75 211.54,53.78 211.86,52.71 211.39,51.49 212.48,50.59 211.88,49.34 212.71,48.38 213.65,48.55 214.44,48.04 214.39,49.27 215.12,50.26 216.12,51.16 215.82,52.47 216.17,53.58 216.55,54.70 215.89,56.00 217.29,56.95 216.41,58.28 216.40,59.47 216.98,60.56 217.05,61.73 218.16,62.73 217.90,63.96 217.33,65.21 218.20,66.27 217.66,67.51 217.86,68.65 219.12,69.67 218.34,70.94 218.27,72.12 219.70,73.11 219.42,74.32 218.96,75.55 220.00,76.59 219.63,77.81 219.20,78.99 220.28,79.96 219.64,81.18 220.79,82.14 220.42,83.32 219.96,84.51 221.17,85.46 221.25,86.57 221.04,87.72 221.48,88.78 221.37,89.92 222.21,90.93 222.15,92.06 222.34,93.16 221.35,94.42 221.89,95.47 221.72,96.62 222.96,97.56 222.20,98.79 223.35,99.75 222.89,100.94 223.10,102.04 223.22,103.18 223.95,104.14 223.53,105.44 224.31,106.39 224.60,107.48 224.49,108.69 225.94,109.44 225.69,110.69 225.55,112.06 226.56,112.86 227.39,113.74 227.37,115.05 228.29,115.88 229.40,116.50 229.50,118.14 230.88,118.48 231.90,118.77 233.00,118.62 233.93,119.39 235.05,119.09 236.08,119.35 237.25,118.92 238.37,119.83 239.57,118.84 240.67,120.06 241.86,119.27 243.00,119.69 244.11,120.13 245.17,120.87 246.44,120.51 247.57,120.86 248.82,120.57 249.92,121.08 250.96,121.42 252.00,121.77 253.04,122.12 254.08,122.46 255.12,122.60" fill="none" stroke="#777" stroke-width="1.0" stroke-linejoin="round" />
<polyline points="203.54,121.94 203.27,120.73 203.56,119.66 203.94,118.61 204.58,117.62 205.10,116.50 205.31,115.28 205.79,114.15 206.38,113.01 207.33,112.04 207.52,110.69 207.82,109.40 208.56,108.37 209.61,107.53 210.12,106.37 210.69,105.35 211.54,104.76 212.71,104.63 213.77,104.35 214.82,103.95 215.94,104.09 217.04,104.12 218.24,103.99 219.33,104.55 220.50,104.63 221.31,105.28 222.41,105.49 223.02,106.44 223.96,106.88 225.25,106.60 226.56,106.37 226.89,105.26 228.24,104.92 228.28,103.60 229.15,102.90 229.47,101.62 230.07,100.51 231.23,99.74 231.75,98.58 232.43,97.52 232.63,96.34 232.51,95.09 232.65,93.90 232.67,92.68 233.64,91.69 233.84,90.52 233.90,89.31 234.35,88.19 234.79,87.08 234.86,85.87 235.68,84.85 235.75,83.64 235.52,82.36 236.51,81.38 235.88,79.99 236.69,78.97 236.94,77.81 237.17,76.70 237.31,75.56 237.45,74.42 238.53,73.57 238.05,72.24 238.94,71.33 239.68,70.37 239.54,69.15 239.49,67.96 239.87,66.90 240.63,65.94 240.84,64.83 241.31,63.79 241.82,62.76 241.47,61.48 242.13,60.50 242.31,59.28 242.68,58.12 242.79,56.88 244.04,56.02 244.31,54.83 244.38,53.58 244.96,52.61 244.56,51.33 245.78,50.58 246.03,49.51 246.12,48.38 246.35,49.53 246.26,50.74 246.77,51.84 247.22,52.95 247.55,54.08 247.33,55.31 247.78,56.37 248.14,57.44 247.98,58.59 247.68,59.75 247.90,60.85 247.89,61.97 248.20,63.05 248.84,64.08 248.68,65.23 248.97,66.31 249.06,67.42 248.89,68.62 249.32,69.73 249.75,70.85 249.48,72.06 249.27,73.26 250.23,74.31 249.65,75.55 250.74,76.59 250.62,77.77 250.79,78.93 250.38,80.15 250.79,81.27 250.42,82.47 250.75,83.60 251.32,84.71 250.83,85.93 251.55,87.02 251.77,88.16 251.15,89.39 251.57,90.51 251.62,91.67 251.76,92.83 251.53,94.01 252.21,95.11 251.92,96.31 252.19,97.44 252.52,98.58 252.27,99.78 252.88,100.88 252.71,102.07 253.02,103.20 253.45,104.32 253.70,105.46 253.40,106.67 254.13,107.75 253.37,109.02 254.35,110.07 254.62,111.20 254.25,112.42 254.92,113.44 254.28,114.75 255.16,115.72 255.62,116.79 255.99,117.87 256.23,118.99 255.98,120.21 256.85,121.34 257.71,122.46 258.87,122.48 260.04,122.49 261.20,122.51 262.36,122.53 263.52,122.54 264.68,122.56 265.85,122.58 267.01,122.59 268.17,122.60 269.33,122.60 270.49,122.60 271.66,122.60 272.82,122.60 273.98,122.60 275.14,122.60 276.30,122.60 277.47,122.60 278.63,122.60 279.79,122.60 280.95,122.60 282.12,122.60" fill="none" stroke="#000" stroke-width="1.85" stroke-linejoin="round" />
<line x1="223" y1="93" x2="261" y2="93" stroke="#4a4a4a" stroke-width="1" />
<line x1="223" y1="91" x2="223" y2="95" stroke="#555" stroke-width="1" />
<line x1="261" y1="91" x2="261" y2="95" stroke="#555" stroke-width="1" />
<text x="255.3" y="88" font-size="11.3" font-weight="bold" text-anchor="start" fill="#000" class="ss"  >81.5</text>
<rect x="202.8" y="42.8" width="79.59999999999997" height="79.8" fill="none" stroke="#777" stroke-width="1" />
<line x1="202.8" y1="122.8" x2="282.4" y2="122.8" stroke="#555" stroke-width="1" />
<text x="211" y="135.3" font-size="7.4" font-weight="bold" text-anchor="middle" fill="#000" class="ss"  >0</text>
<text x="214.8" y="135.3" font-size="7.4" font-weight="bold" text-anchor="start" fill="#000" class="ss"  >10<tspan font-size="5.3" dy="-2.8">2</tspan></text>
<text x="233.8" y="135.3" font-size="7.4" font-weight="bold" text-anchor="start" fill="#000" class="ss"  >10<tspan font-size="5.3" dy="-2.8">3</tspan></text>
<text x="252.3" y="135.3" font-size="7.4" font-weight="bold" text-anchor="start" fill="#000" class="ss"  >10<tspan font-size="5.3" dy="-2.8">4</tspan></text>
<text x="270.8" y="135.3" font-size="7.4" font-weight="bold" text-anchor="start" fill="#000" class="ss"  >10<tspan font-size="5.3" dy="-2.8">5</tspan></text>
<line x1="211" y1="123.19999999999999" x2="211" y2="124.8" stroke="#888" stroke-width="0.8" />
<line x1="220" y1="123.19999999999999" x2="220" y2="124.8" stroke="#888" stroke-width="0.8" />
<line x1="238.5" y1="123.19999999999999" x2="238.5" y2="124.8" stroke="#888" stroke-width="0.8" />
<line x1="257.0" y1="123.19999999999999" x2="257.0" y2="124.8" stroke="#888" stroke-width="0.8" />
<line x1="275.5" y1="123.19999999999999" x2="275.5" y2="124.8" stroke="#888" stroke-width="0.8" />
<text x="216" y="149" font-size="12.8" font-weight="normal" text-anchor="start" fill="#000" class="ss"  >CCR9</text>
<polygon points="283.02,122.60 283.02,122.81 283.03,121.70 283.33,120.59 283.26,119.47 283.36,118.36 283.44,117.25 282.44,116.12 283.24,115.02 282.91,113.90 283.61,112.80 283.62,111.69 283.74,110.58 282.52,109.45 283.73,108.35 283.19,107.23 284.08,106.23 284.42,105.08 284.06,103.77 283.84,102.54 284.33,101.55 284.54,100.47 284.78,99.39 285.79,98.58 286.52,97.60 286.68,96.51 286.63,95.37 287.13,94.35 287.06,93.21 286.77,92.02 286.71,90.89 287.52,89.92 287.12,88.67 288.28,87.68 287.66,86.39 288.02,85.26 288.37,84.14 287.96,82.88 288.51,81.79 288.74,80.64 289.25,79.54 289.85,78.46 289.63,77.18 289.85,76.01 291.08,75.09 290.70,73.77 290.98,72.62 291.99,72.04 292.25,70.98 292.08,69.64 293.23,69.15 293.24,67.98 293.41,66.84 294.04,65.74 293.54,64.51 294.21,63.42 294.09,62.24 293.75,61.03 294.85,59.99 294.44,58.77 293.93,57.56 295.11,56.50 294.24,55.27 294.08,54.09 294.48,52.96 295.41,51.88 295.83,50.75 294.47,49.48 295.31,48.38 295.39,49.54 295.46,50.69 295.08,51.87 296.07,52.97 295.68,54.15 295.97,55.29 295.32,56.49 296.24,57.59 295.29,58.81 296.35,59.90 296.53,61.05 296.17,62.23 297.00,61.53 297.32,60.50 297.90,59.63 298.77,60.56 298.31,61.85 299.42,62.71 299.12,63.96 298.84,65.17 299.13,66.31 299.15,67.48 299.54,68.60 300.10,69.70 300.19,70.87 300.35,72.02 299.77,73.27 300.50,74.35 301.39,75.35 300.51,76.80 302.06,77.63 302.08,78.85 302.29,80.03 302.23,81.27 301.79,82.46 302.54,83.47 302.88,84.55 302.29,85.76 303.41,86.72 303.23,87.87 303.29,88.99 303.11,90.13 303.27,91.24 303.59,92.31 303.96,93.38 304.47,94.48 304.79,95.63 305.33,96.72 304.62,98.12 305.17,99.21 305.34,100.40 306.46,101.34 306.36,102.59 306.56,103.77 306.61,105.07 307.31,106.12 308.38,107.03 308.34,108.36 308.18,109.74 309.15,110.69 310.24,110.94 311.14,111.46 311.75,112.42 312.48,111.72 313.48,111.56 313.63,112.75 313.87,113.91 315.26,114.61 315.21,115.88 316.23,116.73 316.67,117.87 317.13,119.01 317.46,120.21 318.13,121.10 318.85,121.94 319.54,122.60 319.54,122.60" fill="#d4d4d4" stroke="none" stroke-width="0" stroke-linejoin="round" />
<polyline points="283.02,122.81 283.03,121.70 283.33,120.59 283.26,119.47 283.36,118.36 283.44,117.25 282.44,116.12 283.24,115.02 282.91,113.90 283.61,112.80 283.62,111.69 283.74,110.58 282.52,109.45 283.73,108.35 283.19,107.23 284.08,106.23 284.42,105.08 284.06,103.77 283.84,102.54 284.33,101.55 284.54,100.47 284.78,99.39 285.79,98.58 286.52,97.60 286.68,96.51 286.63,95.37 287.13,94.35 287.06,93.21 286.77,92.02 286.71,90.89 287.52,89.92 287.12,88.67 288.28,87.68 287.66,86.39 288.02,85.26 288.37,84.14 287.96,82.88 288.51,81.79 288.74,80.64 289.25,79.54 289.85,78.46 289.63,77.18 289.85,76.01 291.08,75.09 290.70,73.77 290.98,72.62 291.99,72.04 292.25,70.98 292.08,69.64 293.23,69.15 293.24,67.98 293.41,66.84 294.04,65.74 293.54,64.51 294.21,63.42 294.09,62.24 293.75,61.03 294.85,59.99 294.44,58.77 293.93,57.56 295.11,56.50 294.24,55.27 294.08,54.09 294.48,52.96 295.41,51.88 295.83,50.75 294.47,49.48 295.31,48.38 295.39,49.54 295.46,50.69 295.08,51.87 296.07,52.97 295.68,54.15 295.97,55.29 295.32,56.49 296.24,57.59 295.29,58.81 296.35,59.90 296.53,61.05 296.17,62.23 297.00,61.53 297.32,60.50 297.90,59.63 298.77,60.56 298.31,61.85 299.42,62.71 299.12,63.96 298.84,65.17 299.13,66.31 299.15,67.48 299.54,68.60 300.10,69.70 300.19,70.87 300.35,72.02 299.77,73.27 300.50,74.35 301.39,75.35 300.51,76.80 302.06,77.63 302.08,78.85 302.29,80.03 302.23,81.27 301.79,82.46 302.54,83.47 302.88,84.55 302.29,85.76 303.41,86.72 303.23,87.87 303.29,88.99 303.11,90.13 303.27,91.24 303.59,92.31 303.96,93.38 304.47,94.48 304.79,95.63 305.33,96.72 304.62,98.12 305.17,99.21 305.34,100.40 306.46,101.34 306.36,102.59 306.56,103.77 306.61,105.07 307.31,106.12 308.38,107.03 308.34,108.36 308.18,109.74 309.15,110.69 310.24,110.94 311.14,111.46 311.75,112.42 312.48,111.72 313.48,111.56 313.63,112.75 313.87,113.91 315.26,114.61 315.21,115.88 316.23,116.73 316.67,117.87 317.13,119.01 317.46,120.21 318.13,121.10 318.85,121.94 319.54,122.60" fill="none" stroke="#777" stroke-width="1.0" stroke-linejoin="round" />
<polyline points="282.85,122.81 284.12,122.40 285.38,122.00 286.65,121.60 287.32,120.72 288.28,120.31 289.06,119.62 290.12,119.35 291.22,118.81 291.70,117.77 291.85,116.48 293.28,116.20 293.58,115.02 293.61,113.84 294.33,112.95 295.36,112.20 295.61,111.11 295.98,110.07 296.17,108.96 296.39,107.79 296.43,106.57 297.19,105.54 296.91,104.24 297.30,103.11 297.78,102.01 297.69,100.76 298.37,99.70 298.77,98.58 299.32,97.54 299.45,96.42 299.48,95.27 299.86,94.20 299.91,93.06 299.80,91.89 300.53,90.89 300.55,89.74 301.15,88.72 301.57,87.66 301.37,86.46 301.47,85.34 301.82,84.25 302.19,83.17 302.02,82.00 302.00,80.85 302.72,79.83 303.08,78.74 303.15,77.61 303.25,76.48 303.60,75.40 303.60,74.26 303.74,73.14 303.73,71.99 303.96,70.88 303.95,69.70 304.49,68.60 304.10,67.35 304.64,66.25 305.23,65.17 305.35,64.00 305.45,62.83 305.23,61.61 305.69,60.50 305.83,59.40 306.08,58.33 306.47,57.28 306.46,56.15 306.96,55.13 307.45,54.10 306.86,52.86 307.42,51.85 308.15,50.89 308.84,49.92 309.15,48.73 309.70,49.90 310.03,51.15 309.96,52.54 310.88,53.58 311.54,54.61 311.15,55.79 311.73,56.83 311.21,58.03 311.19,59.15 311.81,60.19 312.42,61.22 312.06,62.40 312.26,63.50 312.22,64.62 312.62,65.69 312.73,66.81 312.71,67.93 312.63,69.07 313.09,70.15 313.33,71.24 312.87,72.42 313.80,73.45 313.40,74.62 313.85,75.69 313.56,76.85 314.39,77.89 313.57,79.10 314.38,80.14 314.35,81.27 314.95,82.37 314.82,83.55 314.80,84.72 315.34,85.83 315.01,87.03 315.13,88.18 314.94,89.37 315.43,90.48 315.64,91.63 315.80,92.78 315.35,93.99 315.25,95.16 315.82,96.27 316.27,97.39 316.08,98.58 315.87,99.72 316.45,100.77 316.77,101.85 316.99,102.94 316.40,104.12 316.49,105.22 316.81,106.30 317.12,107.38 317.14,108.50 317.64,109.56 317.46,110.69 317.18,111.87 318.05,112.82 317.96,113.97 317.98,115.09 318.20,116.17 318.79,117.18 319.20,118.22 319.19,119.35 319.84,120.30 320.58,121.19 321.27,122.12 322.42,122.35 323.58,122.58 324.73,122.60 325.87,122.60 327.00,122.60 328.14,122.60 329.27,122.60 330.41,122.60 331.55,122.60 332.68,122.60 333.82,122.60 334.95,122.60 336.09,122.60 337.22,122.60 338.36,122.60 339.50,122.60 340.63,122.60 341.77,122.60 342.90,122.60 344.04,122.60 345.18,122.60 346.31,122.60 347.45,122.60 348.58,122.60 349.72,122.60 350.85,122.60 351.99,122.60 353.13,122.60 354.26,122.60 355.40,122.60 356.53,122.60 357.67,122.60 358.81,122.60 359.94,122.60 361.08,122.60" fill="none" stroke="#000" stroke-width="1.85" stroke-linejoin="round" />
<line x1="304" y1="93" x2="328.2" y2="93" stroke="#4a4a4a" stroke-width="1" />
<line x1="304" y1="91" x2="304" y2="95" stroke="#555" stroke-width="1" />
<line x1="328.2" y1="91" x2="328.2" y2="95" stroke="#555" stroke-width="1" />
<text x="327.3" y="87.3" font-size="11.3" font-weight="bold" text-anchor="start" fill="#000" class="ss"  >71.4</text>
<rect x="282.3" y="42.8" width="79.0" height="79.8" fill="none" stroke="#777" stroke-width="1" />
<line x1="282.3" y1="122.8" x2="361.3" y2="122.8" stroke="#555" stroke-width="1" />
<text x="290.5" y="135.3" font-size="7.4" font-weight="bold" text-anchor="middle" fill="#000" class="ss"  >0</text>
<text x="293.8" y="135.3" font-size="7.4" font-weight="bold" text-anchor="start" fill="#000" class="ss"  >10<tspan font-size="5.3" dy="-2.8">2</tspan></text>
<text x="313.8" y="135.3" font-size="7.4" font-weight="bold" text-anchor="start" fill="#000" class="ss"  >10<tspan font-size="5.3" dy="-2.8">3</tspan></text>
<text x="332.3" y="135.3" font-size="7.4" font-weight="bold" text-anchor="start" fill="#000" class="ss"  >10<tspan font-size="5.3" dy="-2.8">4</tspan></text>
<text x="350.3" y="135.3" font-size="7.4" font-weight="bold" text-anchor="start" fill="#000" class="ss"  >10<tspan font-size="5.3" dy="-2.8">5</tspan></text>
<line x1="290.5" y1="123.19999999999999" x2="290.5" y2="124.8" stroke="#888" stroke-width="0.8" />
<line x1="299" y1="123.19999999999999" x2="299" y2="124.8" stroke="#888" stroke-width="0.8" />
<line x1="318.5" y1="123.19999999999999" x2="318.5" y2="124.8" stroke="#888" stroke-width="0.8" />
<line x1="337.0" y1="123.19999999999999" x2="337.0" y2="124.8" stroke="#888" stroke-width="0.8" />
<line x1="355.0" y1="123.19999999999999" x2="355.0" y2="124.8" stroke="#888" stroke-width="0.8" />
<text transform="translate(298.4,148.4) scale(1.22,1)" font-size="11.6" fill="#2a2a2a" class="sf" style="stroke-width:.1px">α</text>
<text x="305.9" y="152" font-size="9.4" fill="#222" class="ss">4</text>
<text transform="translate(311.6,148.4) scale(1.32,1)" font-size="11.6" fill="#2a2a2a" class="sf" style="stroke-width:.1px">β</text>
<text x="319.2" y="152" font-size="9.4" fill="#222" class="ss">7</text>
<polyline points="361.88,94.25 361.60,92.95 362.08,91.79 361.97,90.52 362.38,89.35 362.92,88.19 363.66,87.15 363.62,85.91 363.96,84.77 364.39,83.65 364.80,82.53 364.65,81.27 365.06,80.15 365.36,78.99 365.65,77.84 366.02,76.71 366.20,75.53 366.38,74.35 367.07,73.58 367.15,72.45 368.10,71.84 368.46,70.88 368.79,69.72 369.49,68.67 369.17,67.29 369.63,66.16 369.85,64.96 370.71,63.96 371.33,62.97 371.80,61.93 371.85,60.77 371.87,59.59 372.67,58.65 372.96,57.56 373.05,56.41 373.31,55.31 373.98,54.25 375.04,53.58 375.18,52.43 375.65,51.39 375.89,50.27 376.42,49.25 377.25,48.75 378.15,48.38 378.99,48.71 379.88,48.73 379.62,49.91 380.77,50.83 380.42,52.03 381.19,53.02 381.31,54.14 381.10,55.31 380.92,56.46 381.33,57.52 381.11,58.68 381.78,59.70 382.41,60.74 382.16,61.90 382.10,63.03 381.88,64.19 381.99,65.30 382.70,66.32 382.83,67.42 383.07,68.56 383.55,69.68 383.10,70.90 383.72,72.00 383.93,73.14 384.22,74.28 384.38,75.43 383.78,76.68 384.54,77.76 383.76,79.03 384.86,80.06 384.56,81.27 384.29,82.47 385.23,83.53 385.49,84.67 384.86,85.91 385.51,87.01 385.11,88.22 385.84,89.31 386.13,90.44 385.77,91.65 386.01,93.06 386.81,94.25 386.73,95.46 386.73,96.66 387.03,97.82 387.89,98.91 387.45,100.17 387.52,101.36 387.95,102.50 387.60,103.75 388.49,104.83 387.87,106.12 388.54,107.23 388.49,108.37 389.45,109.34 389.63,110.44 389.13,111.66 389.14,112.80 390.13,113.76 390.06,114.91 389.80,116.08 390.60,117.08 390.04,118.31 390.62,119.35" fill="none" stroke="#000" stroke-width="1.85" stroke-linejoin="round" />
<polygon points="361.71,122.60 361.71,122.81 361.77,121.65 361.27,120.47 361.88,119.35 363.16,119.48 364.07,118.45 365.41,118.81 366.38,117.96 367.29,117.22 368.39,116.96 369.36,116.37 370.50,116.20 371.58,115.88 372.18,114.92 372.89,114.11 374.17,114.15 375.09,113.49 375.21,112.23 375.81,111.33 376.77,110.69 377.16,109.46 378.04,108.51 378.62,107.39 379.37,106.37 380.19,105.39 380.87,104.32 381.14,103.01 381.96,102.04 383.06,101.29 383.48,100.20 382.92,98.63 384.48,98.10 384.56,96.85 385.62,96.08 385.98,94.96 385.63,93.49 387.08,92.91 387.15,91.65 387.85,90.70 387.54,89.25 388.06,88.21 389.84,87.80 389.75,86.46 390.59,85.74 390.75,84.51 391.22,83.51 392.35,83.00 391.97,81.82 392.27,80.74 393.23,79.75 392.75,78.56 392.62,77.42 393.89,76.48 393.88,75.35 393.11,74.12 394.34,73.17 394.08,72.01 394.08,70.88 394.69,69.80 394.71,68.62 395.24,67.52 395.27,66.34 395.54,65.20 394.78,63.89 395.71,62.86 395.66,61.66 395.81,60.50 396.32,59.45 396.03,58.28 396.85,57.28 396.52,56.11 396.24,54.94 396.36,53.84 396.37,52.71 397.06,51.69 396.57,50.49 397.33,49.48 397.54,48.38 398.28,49.36 397.98,50.55 398.19,51.63 398.35,52.72 398.09,53.90 399.56,54.73 398.55,56.06 399.27,57.04 399.42,58.15 399.37,59.27 399.32,60.40 399.16,61.53 399.95,62.59 399.98,63.70 399.27,64.89 400.69,65.88 399.95,67.07 400.05,68.18 401.06,69.21 400.29,70.40 400.28,71.53 400.65,72.62 400.09,73.81 401.07,74.91 400.18,76.13 400.96,77.23 401.08,78.38 400.54,79.58 401.92,80.64 400.97,81.87 401.19,83.01 401.70,84.14 401.00,85.35 401.82,86.45 401.74,87.61 401.75,88.77 401.87,89.92 401.54,91.11 402.46,92.20 402.20,93.38 402.30,94.53 402.19,95.70 401.86,96.88 402.74,97.98 402.02,99.19 402.74,100.30 402.67,101.46 403.10,102.59 402.83,103.77 402.20,104.97 402.76,106.09 403.08,107.23 402.84,108.46 403.71,109.50 403.92,110.65 404.14,111.80 403.91,113.02 404.03,114.19 404.00,115.38 405.30,116.35 404.81,117.62 405.07,118.85 405.42,120.05 406.43,120.89 407.06,121.94 408.36,122.38 409.65,122.60 410.79,122.60 411.92,122.60 413.05,122.60 414.18,122.60 415.31,122.60 416.44,122.60 417.58,122.60 418.71,122.60 419.84,122.60 420.97,122.60 422.10,122.60 423.23,122.60 424.37,122.60 425.50,122.60 426.63,122.60 427.76,122.60 428.89,122.60 430.02,122.60 431.16,122.60 432.29,122.60 433.42,122.60 434.55,122.60 435.68,122.60 436.81,122.60 437.95,122.60 439.08,122.60 439.08,122.60" fill="#d4d4d4" stroke="none" stroke-width="0" stroke-linejoin="round" />
<polyline points="361.71,122.81 361.77,121.65 361.27,120.47 361.88,119.35 363.16,119.48 364.07,118.45 365.41,118.81 366.38,117.96 367.29,117.22 368.39,116.96 369.36,116.37 370.50,116.20 371.58,115.88 372.18,114.92 372.89,114.11 374.17,114.15 375.09,113.49 375.21,112.23 375.81,111.33 376.77,110.69 377.16,109.46 378.04,108.51 378.62,107.39 379.37,106.37 380.19,105.39 380.87,104.32 381.14,103.01 381.96,102.04 383.06,101.29 383.48,100.20 382.92,98.63 384.48,98.10 384.56,96.85 385.62,96.08 385.98,94.96 385.63,93.49 387.08,92.91 387.15,91.65 387.85,90.70 387.54,89.25 388.06,88.21 389.84,87.80 389.75,86.46 390.59,85.74 390.75,84.51 391.22,83.51 392.35,83.00 391.97,81.82 392.27,80.74 393.23,79.75 392.75,78.56 392.62,77.42 393.89,76.48 393.88,75.35 393.11,74.12 394.34,73.17 394.08,72.01 394.08,70.88 394.69,69.80 394.71,68.62 395.24,67.52 395.27,66.34 395.54,65.20 394.78,63.89 395.71,62.86 395.66,61.66 395.81,60.50 396.32,59.45 396.03,58.28 396.85,57.28 396.52,56.11 396.24,54.94 396.36,53.84 396.37,52.71 397.06,51.69 396.57,50.49 397.33,49.48 397.54,48.38 398.28,49.36 397.98,50.55 398.19,51.63 398.35,52.72 398.09,53.90 399.56,54.73 398.55,56.06 399.27,57.04 399.42,58.15 399.37,59.27 399.32,60.40 399.16,61.53 399.95,62.59 399.98,63.70 399.27,64.89 400.69,65.88 399.95,67.07 400.05,68.18 401.06,69.21 400.29,70.40 400.28,71.53 400.65,72.62 400.09,73.81 401.07,74.91 400.18,76.13 400.96,77.23 401.08,78.38 400.54,79.58 401.92,80.64 400.97,81.87 401.19,83.01 401.70,84.14 401.00,85.35 401.82,86.45 401.74,87.61 401.75,88.77 401.87,89.92 401.54,91.11 402.46,92.20 402.20,93.38 402.30,94.53 402.19,95.70 401.86,96.88 402.74,97.98 402.02,99.19 402.74,100.30 402.67,101.46 403.10,102.59 402.83,103.77 402.20,104.97 402.76,106.09 403.08,107.23 402.84,108.46 403.71,109.50 403.92,110.65 404.14,111.80 403.91,113.02 404.03,114.19 404.00,115.38 405.30,116.35 404.81,117.62 405.07,118.85 405.42,120.05 406.43,120.89 407.06,121.94 408.36,122.38 409.65,122.60 410.79,122.60 411.92,122.60 413.05,122.60 414.18,122.60 415.31,122.60 416.44,122.60 417.58,122.60 418.71,122.60 419.84,122.60 420.97,122.60 422.10,122.60 423.23,122.60 424.37,122.60 425.50,122.60 426.63,122.60 427.76,122.60 428.89,122.60 430.02,122.60 431.16,122.60 432.29,122.60 433.42,122.60 434.55,122.60 435.68,122.60 436.81,122.60 437.95,122.60 439.08,122.60" fill="none" stroke="#777" stroke-width="1.0" stroke-linejoin="round" />
<line x1="386.3" y1="93.7" x2="410" y2="93.7" stroke="#4a4a4a" stroke-width="1" />
<line x1="386.3" y1="91.7" x2="386.3" y2="95.7" stroke="#555" stroke-width="1" />
<line x1="410" y1="91.7" x2="410" y2="95.7" stroke="#555" stroke-width="1" />
<text x="410" y="87.3" font-size="11.3" font-weight="bold" text-anchor="start" fill="#000" class="ss"  >79.5</text>
<rect x="361.2" y="42.8" width="78.19999999999999" height="79.8" fill="none" stroke="#777" stroke-width="1" />
<line x1="361.2" y1="122.8" x2="439.4" y2="122.8" stroke="#555" stroke-width="1" />
<text x="370" y="135.3" font-size="7.4" font-weight="bold" text-anchor="middle" fill="#000" class="ss"  >0</text>
<text x="372.8" y="135.3" font-size="7.4" font-weight="bold" text-anchor="start" fill="#000" class="ss"  >10<tspan font-size="5.3" dy="-2.8">2</tspan></text>
<text x="393.8" y="135.3" font-size="7.4" font-weight="bold" text-anchor="start" fill="#000" class="ss"  >10<tspan font-size="5.3" dy="-2.8">3</tspan></text>
<text x="410.8" y="135.3" font-size="7.4" font-weight="bold" text-anchor="start" fill="#000" class="ss"  >10<tspan font-size="5.3" dy="-2.8">4</tspan></text>
<text x="429.8" y="135.3" font-size="7.4" font-weight="bold" text-anchor="start" fill="#000" class="ss"  >10<tspan font-size="5.3" dy="-2.8">5</tspan></text>
<line x1="370" y1="123.19999999999999" x2="370" y2="124.8" stroke="#888" stroke-width="0.8" />
<line x1="378" y1="123.19999999999999" x2="378" y2="124.8" stroke="#888" stroke-width="0.8" />
<line x1="398.5" y1="123.19999999999999" x2="398.5" y2="124.8" stroke="#888" stroke-width="0.8" />
<line x1="415.5" y1="123.19999999999999" x2="415.5" y2="124.8" stroke="#888" stroke-width="0.8" />
<line x1="434.5" y1="123.19999999999999" x2="434.5" y2="124.8" stroke="#888" stroke-width="0.8" />
<text x="381" y="149" font-size="12.8" font-weight="normal" text-anchor="start" fill="#000" class="ss"  >CD122</text>
<polygon points="439.35,122.60 439.35,122.81 439.52,121.94 440.60,121.51 441.68,121.06 442.52,120.03 443.85,120.21 445.08,119.59 446.44,119.35 447.25,119.91 448.22,120.19 449.04,120.73 450.14,121.22 451.35,121.19 452.50,121.42 453.58,121.49 454.66,121.55 455.75,121.62 456.83,121.68 457.91,121.75 458.99,121.81 460.07,121.88 461.15,121.94 462.31,121.74 463.46,121.54 464.62,121.34 465.77,121.13 466.83,120.41 468.08,120.73 469.29,120.69 470.07,119.64 471.28,119.58 472.31,119.11 473.27,118.48 474.06,117.73 474.90,117.05 476.12,116.88 476.73,115.88 477.85,115.14 478.15,114.00 478.38,112.81 478.53,111.59 479.33,110.69 479.41,109.27 481.23,108.89 481.54,107.60 481.92,106.37 482.65,105.36 482.17,104.09 482.82,103.06 483.61,102.07 483.64,100.91 483.55,99.72 483.65,98.58 483.59,97.44 483.98,96.39 484.87,95.45 484.34,94.21 485.01,93.22 485.10,92.12 485.75,91.12 485.38,89.92 486.01,88.91 485.41,87.71 485.17,86.56 485.73,85.54 486.14,84.50 486.55,83.45 487.06,82.43 486.77,81.27 487.45,80.17 486.29,78.90 487.57,77.85 487.64,76.69 487.82,75.55 487.48,74.36 487.14,73.16 488.10,72.08 488.14,70.92 488.05,69.75 488.50,68.63 487.98,67.42 487.82,66.29 487.50,65.14 488.27,64.07 488.71,62.97 487.89,61.79 488.78,60.73 489.13,59.62 488.15,58.44 488.78,57.35 488.96,56.24 488.71,55.10 488.40,53.96 488.54,52.84 489.35,51.77 489.49,50.65 489.06,49.50 489.19,48.38 489.92,49.48 488.97,50.74 489.13,51.89 490.05,52.96 489.65,54.17 489.29,55.37 489.43,56.52 490.08,57.62 490.23,58.77 490.33,59.89 490.22,61.03 490.88,62.12 490.93,63.24 491.01,64.37 490.29,65.54 490.86,66.63 490.62,67.77 490.92,68.89 490.81,70.02 491.42,71.12 491.64,72.23 490.27,73.43 491.27,74.51 491.73,75.61 491.00,76.78 490.83,77.92 491.84,78.99 491.24,80.15 491.44,81.27 491.72,82.39 491.50,83.52 492.29,84.62 492.31,85.74 490.92,86.92 491.15,88.04 491.77,89.14 491.69,90.27 492.19,91.38 491.46,92.54 492.03,93.64 491.29,94.79 491.60,95.91 491.57,97.04 491.40,98.17 492.50,99.26 492.87,100.37 492.67,101.50 492.74,102.63 492.31,103.77 493.00,104.88 493.12,106.03 492.44,107.24 492.04,108.42 492.73,109.53 492.07,110.73 492.20,111.88 493.54,112.96 492.81,114.16 493.18,115.30 493.67,116.43 493.17,117.62 492.74,118.81 494.01,119.61 493.81,120.75 494.14,121.77 494.38,122.60 495.56,122.60 496.74,122.60 497.92,122.60 499.09,122.60 500.27,122.60 501.45,122.60 502.62,122.60 503.80,122.60 504.98,122.60 506.15,122.60 507.33,122.60 508.51,122.60 509.68,122.60 510.86,122.60 512.04,122.60 513.22,122.60 514.39,122.60 515.57,122.60 516.75,122.60 517.92,122.60 517.92,122.60" fill="#d4d4d4" stroke="none" stroke-width="0" stroke-linejoin="round" />
<polyline points="439.35,122.81 439.52,121.94 440.60,121.51 441.68,121.06 442.52,120.03 443.85,120.21 445.08,119.59 446.44,119.35 447.25,119.91 448.22,120.19 449.04,120.73 450.14,121.22 451.35,121.19 452.50,121.42 453.58,121.49 454.66,121.55 455.75,121.62 456.83,121.68 457.91,121.75 458.99,121.81 460.07,121.88 461.15,121.94 462.31,121.74 463.46,121.54 464.62,121.34 465.77,121.13 466.83,120.41 468.08,120.73 469.29,120.69 470.07,119.64 471.28,119.58 472.31,119.11 473.27,118.48 474.06,117.73 474.90,117.05 476.12,116.88 476.73,115.88 477.85,115.14 478.15,114.00 478.38,112.81 478.53,111.59 479.33,110.69 479.41,109.27 481.23,108.89 481.54,107.60 481.92,106.37 482.65,105.36 482.17,104.09 482.82,103.06 483.61,102.07 483.64,100.91 483.55,99.72 483.65,98.58 483.59,97.44 483.98,96.39 484.87,95.45 484.34,94.21 485.01,93.22 485.10,92.12 485.75,91.12 485.38,89.92 486.01,88.91 485.41,87.71 485.17,86.56 485.73,85.54 486.14,84.50 486.55,83.45 487.06,82.43 486.77,81.27 487.45,80.17 486.29,78.90 487.57,77.85 487.64,76.69 487.82,75.55 487.48,74.36 487.14,73.16 488.10,72.08 488.14,70.92 488.05,69.75 488.50,68.63 487.98,67.42 487.82,66.29 487.50,65.14 488.27,64.07 488.71,62.97 487.89,61.79 488.78,60.73 489.13,59.62 488.15,58.44 488.78,57.35 488.96,56.24 488.71,55.10 488.40,53.96 488.54,52.84 489.35,51.77 489.49,50.65 489.06,49.50 489.19,48.38 489.92,49.48 488.97,50.74 489.13,51.89 490.05,52.96 489.65,54.17 489.29,55.37 489.43,56.52 490.08,57.62 490.23,58.77 490.33,59.89 490.22,61.03 490.88,62.12 490.93,63.24 491.01,64.37 490.29,65.54 490.86,66.63 490.62,67.77 490.92,68.89 490.81,70.02 491.42,71.12 491.64,72.23 490.27,73.43 491.27,74.51 491.73,75.61 491.00,76.78 490.83,77.92 491.84,78.99 491.24,80.15 491.44,81.27 491.72,82.39 491.50,83.52 492.29,84.62 492.31,85.74 490.92,86.92 491.15,88.04 491.77,89.14 491.69,90.27 492.19,91.38 491.46,92.54 492.03,93.64 491.29,94.79 491.60,95.91 491.57,97.04 491.40,98.17 492.50,99.26 492.87,100.37 492.67,101.50 492.74,102.63 492.31,103.77 493.00,104.88 493.12,106.03 492.44,107.24 492.04,108.42 492.73,109.53 492.07,110.73 492.20,111.88 493.54,112.96 492.81,114.16 493.18,115.30 493.67,116.43 493.17,117.62 492.74,118.81 494.01,119.61 493.81,120.75 494.14,121.77 494.38,122.60 495.56,122.60 496.74,122.60 497.92,122.60 499.09,122.60 500.27,122.60 501.45,122.60 502.62,122.60 503.80,122.60 504.98,122.60 506.15,122.60 507.33,122.60 508.51,122.60 509.68,122.60 510.86,122.60 512.04,122.60 513.22,122.60 514.39,122.60 515.57,122.60 516.75,122.60 517.92,122.60" fill="none" stroke="#777" stroke-width="1.0" stroke-linejoin="round" />
<polyline points="440.38,95.12 440.61,93.97 441.03,92.84 440.79,91.67 440.56,90.49 440.69,89.34 440.44,88.17 441.40,87.07 441.50,85.92 440.73,84.71 440.60,83.55 440.91,82.41 441.25,81.27 441.20,80.15 441.91,79.11 442.02,78.01 442.06,76.90 441.30,75.71 442.22,74.69 442.25,73.58 442.29,72.47 442.77,71.41 441.87,70.21 442.46,69.15 442.23,67.95 443.05,66.88 443.40,65.76 443.27,64.56 443.01,63.36 443.48,62.24 443.82,61.11 443.26,59.87 443.85,58.77 444.25,57.53 444.76,56.34 445.58,55.31 445.40,54.13 446.02,53.11 445.91,51.94 446.22,50.86 446.35,49.75 446.96,48.73 448.17,48.73 448.18,49.86 449.10,50.83 448.54,52.06 449.31,53.05 449.68,54.12 449.38,55.31 449.09,56.46 450.03,57.42 449.43,58.63 449.68,59.70 449.83,60.78 450.81,61.74 450.65,62.87 450.77,63.96 451.40,65.04 450.69,66.35 450.97,67.48 451.40,68.60 451.78,69.72 452.10,70.86 451.76,72.10 452.33,73.19 452.50,74.35 452.52,75.47 453.20,76.49 453.28,77.61 453.61,78.68 453.05,79.89 453.39,80.96 453.99,82.00 453.36,83.22 454.17,84.22 454.17,85.35 454.23,86.46 454.76,87.51 454.79,88.63 454.33,89.82 455.04,90.84 455.38,91.92 455.18,93.07 455.53,94.14 455.05,95.34 456.07,96.31 455.28,97.55 455.96,98.58 456.63,99.65 455.92,100.96 456.36,102.07 457.04,103.14 456.95,104.34 457.35,105.46 457.57,106.61 457.82,107.75 457.69,108.96 458.18,110.13 457.87,111.53 458.20,112.75 458.63,113.94 459.42,115.02 460.60,115.57 461.32,116.59 462.02,117.62 463.26,118.22 464.62,117.96 465.61,117.10 467.01,117.39 468.08,116.75 469.16,116.13 470.56,116.44 471.54,115.54 472.54,114.68 473.94,115.17 475.00,114.50 476.01,114.15 477.08,114.15" fill="none" stroke="#000" stroke-width="1.85" stroke-linejoin="round" />
<polyline points="439.87,57.04 439.87,96.85" fill="none" stroke="#000" stroke-width="1.0" stroke-linejoin="round" />
<line x1="456.8" y1="93.7" x2="494.4" y2="93.7" stroke="#4a4a4a" stroke-width="1" />
<line x1="456.8" y1="91.7" x2="456.8" y2="95.7" stroke="#555" stroke-width="1" />
<line x1="494.4" y1="91.7" x2="494.4" y2="95.7" stroke="#555" stroke-width="1" />
<text x="496.5" y="87.3" font-size="11.3" font-weight="bold" text-anchor="start" fill="#000" class="ss"  >93.4</text>
<rect x="439" y="42.8" width="79.29999999999995" height="79.8" fill="none" stroke="#777" stroke-width="1" />
<line x1="439" y1="122.8" x2="518.3" y2="122.8" stroke="#555" stroke-width="1" />
<text x="448" y="135.3" font-size="7.4" font-weight="bold" text-anchor="middle" fill="#000" class="ss"  >0</text>
<text x="450.8" y="135.3" font-size="7.4" font-weight="bold" text-anchor="start" fill="#000" class="ss"  >10<tspan font-size="5.3" dy="-2.8">2</tspan></text>
<text x="470.8" y="135.3" font-size="7.4" font-weight="bold" text-anchor="start" fill="#000" class="ss"  >10<tspan font-size="5.3" dy="-2.8">3</tspan></text>
<text x="488.8" y="135.3" font-size="7.4" font-weight="bold" text-anchor="start" fill="#000" class="ss"  >10<tspan font-size="5.3" dy="-2.8">4</tspan></text>
<text x="507.3" y="135.3" font-size="7.4" font-weight="bold" text-anchor="start" fill="#000" class="ss"  >10<tspan font-size="5.3" dy="-2.8">5</tspan></text>
<line x1="448" y1="123.19999999999999" x2="448" y2="124.8" stroke="#888" stroke-width="0.8" />
<line x1="456" y1="123.19999999999999" x2="456" y2="124.8" stroke="#888" stroke-width="0.8" />
<line x1="475.5" y1="123.19999999999999" x2="475.5" y2="124.8" stroke="#888" stroke-width="0.8" />
<line x1="493.5" y1="123.19999999999999" x2="493.5" y2="124.8" stroke="#888" stroke-width="0.8" />
<line x1="512.0" y1="123.19999999999999" x2="512.0" y2="124.8" stroke="#888" stroke-width="0.8" />
<text x="456" y="149" font-size="12.8" font-weight="normal" text-anchor="start" fill="#000" class="ss"  >CXCR3</text>
<text x="96" y="193" font-size="10.3" font-weight="normal" text-anchor="start" fill="#000" class="ss"  ><tspan font-style="italic">P</tspan> = 0.0002</text>
<polyline points="93.00,202.50 93.00,197.50 143.00,197.50 143.00,202.00" fill="none" stroke="#222" stroke-width="1" stroke-linejoin="round" />
<text x="80" y="213" font-size="10.3" font-weight="normal" text-anchor="start" fill="#000" class="ss"  ><tspan font-style="italic">P</tspan> = 0.0004</text>
<polyline points="93.00,222.00 93.00,217.50 121.00,217.50 121.00,222.00" fill="none" stroke="#222" stroke-width="1" stroke-linejoin="round" />
<text x="127" y="227" font-size="10.3" font-weight="normal" text-anchor="start" fill="#000" class="ss"  ><tspan font-style="italic">P</tspan> = 0.001</text>
<polyline points="121.00,239.00 121.00,233.00 179.00,233.00 179.00,239.00" fill="none" stroke="#222" stroke-width="1" stroke-linejoin="round" />
<line x1="79.5" y1="216" x2="79.5" y2="319" stroke="#000" stroke-width="1" />
<line x1="79" y1="318.5" x2="181" y2="318.5" stroke="#000" stroke-width="1" />
<text x="77.5" y="219.3" font-size="6.4" font-weight="bold" text-anchor="end" fill="#000" class="ss"  >200000</text>
<line x1="77.5" y1="217" x2="79.5" y2="217" stroke="#000" stroke-width="0.8" />
<text x="77.5" y="239.8" font-size="6.4" font-weight="bold" text-anchor="end" fill="#000" class="ss"  >160000</text>
<line x1="77.5" y1="237.5" x2="79.5" y2="237.5" stroke="#000" stroke-width="0.8" />
<text x="77.5" y="259.8" font-size="6.4" font-weight="bold" text-anchor="end" fill="#000" class="ss"  >120000</text>
<line x1="77.5" y1="257.5" x2="79.5" y2="257.5" stroke="#000" stroke-width="0.8" />
<text x="77.5" y="280.3" font-size="6.4" font-weight="bold" text-anchor="end" fill="#000" class="ss"  >80000</text>
<line x1="77.5" y1="278" x2="79.5" y2="278" stroke="#000" stroke-width="0.8" />
<text x="77.5" y="300.3" font-size="6.4" font-weight="bold" text-anchor="end" fill="#000" class="ss"  >40000</text>
<line x1="77.5" y1="298" x2="79.5" y2="298" stroke="#000" stroke-width="0.8" />
<text x="77.5" y="320.7" font-size="6.4" font-weight="bold" text-anchor="end" fill="#000" class="ss"  >0</text>
<line x1="77.5" y1="318.4" x2="79.5" y2="318.4" stroke="#000" stroke-width="0.8" />
<line x1="92.5" y1="225.5" x2="92.5" y2="233" stroke="#555" stroke-width="1" />
<line x1="88" y1="225.5" x2="96.5" y2="225.5" stroke="#555" stroke-width="1" />
<rect x="84" y="232" width="17" height="86.5" fill="#000" stroke="none" stroke-width="0" />
<line x1="114" y1="305" x2="122" y2="305" stroke="#555" stroke-width="0.8" />
<rect x="109.5" y="306.3" width="17.5" height="12" fill="url(#pchk)" stroke="#333" stroke-width="0.8" />
<line x1="92.5" y1="318.5" x2="92.5" y2="320.5" stroke="#000" stroke-width="0.8" />
<line x1="118" y1="318.5" x2="118" y2="320.5" stroke="#000" stroke-width="0.8" />
<line x1="143" y1="318.5" x2="143" y2="320.5" stroke="#000" stroke-width="0.8" />
<line x1="169" y1="318.5" x2="169" y2="320.5" stroke="#000" stroke-width="0.8" />
<text x="143" y="315.6" font-size="11" font-weight="normal" text-anchor="middle" fill="#333" class="ss"  >†</text>
<text x="169" y="315.6" font-size="11" font-weight="normal" text-anchor="middle" fill="#333" class="ss"  >†</text>
<text transform="translate(26,260) rotate(-90)" font-size="10.6" text-anchor="middle" class="ss">Thymidine Incorporation</text>
<text transform="translate(39.3,261.5) rotate(-90)" font-size="10" text-anchor="middle" class="ss">(cpm)</text>
<text x="18" y="331.4" font-size="10.35" font-weight="normal" text-anchor="start" fill="#000" class="ss"  >Responder :</text>
<text x="75" y="331.4" font-size="9" font-weight="normal" text-anchor="start" fill="#000" class="ss"  >Naive</text>
<text x="101" y="331.4" font-size="9" font-weight="normal" text-anchor="start" fill="#000" class="ss"  >Memory</text>
<text x="136" y="331.4" font-size="9" font-weight="normal" text-anchor="start" fill="#000" class="ss"  >Naive</text>
<text x="161" y="331.4" font-size="9" font-weight="normal" text-anchor="start" fill="#000" class="ss"  >Memory</text>
<text x="24.5" y="342.5" font-size="9" font-weight="normal" text-anchor="start" fill="#000" class="ss"  >(CD8<tspan font-size="6" dy="-3">+</tspan><tspan dy="3"> T)</tspan></text>
<line x1="75" y1="344.3" x2="131" y2="344.3" stroke="#555" stroke-width="1" />
<line x1="134.5" y1="344.3" x2="190" y2="344.3" stroke="#555" stroke-width="1" />
<text x="18" y="355.4" font-size="10.35" font-weight="normal" text-anchor="start" fill="#000" class="ss"  >Stimulator :</text>
<text x="95.5" y="355.4" font-size="9" font-weight="normal" text-anchor="start" fill="#000" class="ss"  >Allo</text>
<text x="152" y="355.4" font-size="9" font-weight="normal" text-anchor="start" fill="#000" class="ss"  >Syn</text>
<text x="336" y="198" font-size="12.6" font-weight="bold" text-anchor="start" fill="#000" class="ss"  >IL-2</text>
<text x="432.5" y="197.5" font-size="12.5" font-weight="bold" class="ss">IFN-<tspan class="sf" font-weight="normal" font-size="13">γ</tspan></text>
<text x="212.5" y="214" font-size="10.2" font-weight="normal" text-anchor="start" fill="#000" class="ss"  >Stimulator :</text>
<text x="269.5" y="214" font-size="10.2" font-weight="normal" text-anchor="start" fill="#000" class="ss"  >Responder :</text>
<text x="269.5" y="224" font-size="9" font-weight="normal" text-anchor="start" fill="#000" class="ss"  >(CD8<tspan font-size="6" dy="-3">+</tspan><tspan dy="3"> T)</tspan></text>
<line x1="269.5" y1="231" x2="269.5" y2="271" stroke="#555" stroke-width="1" />
<line x1="269.5" y1="286" x2="269.5" y2="327.5" stroke="#555" stroke-width="1" />
<text x="272" y="238.6" font-size="9.3" font-weight="normal" text-anchor="start" fill="#000" class="ss"  >Naive</text>
<text x="272" y="265" font-size="9.1" font-weight="normal" text-anchor="start" fill="#000" class="ss"  >Memory</text>
<text x="272" y="294" font-size="9.3" font-weight="normal" text-anchor="start" fill="#000" class="ss"  >Naive</text>
<text x="272" y="322" font-size="9.1" font-weight="normal" text-anchor="start" fill="#000" class="ss"  >Memory</text>
<text x="227" y="254.4" font-size="9" font-weight="normal" text-anchor="start" fill="#000" class="ss"  >Allo</text>
<text x="227.5" y="309.5" font-size="9" font-weight="normal" text-anchor="start" fill="#000" class="ss"  >Syn</text>
<line x1="313" y1="221" x2="313" y2="335" stroke="#000" stroke-width="1" />
<line x1="312.5" y1="335" x2="385" y2="335" stroke="#000" stroke-width="1" />
<line x1="311" y1="234.5" x2="313" y2="234.5" stroke="#000" stroke-width="0.8" />
<line x1="311" y1="263.5" x2="313" y2="263.5" stroke="#000" stroke-width="0.8" />
<line x1="311" y1="292.5" x2="313" y2="292.5" stroke="#000" stroke-width="0.8" />
<line x1="311" y1="321" x2="313" y2="321" stroke="#000" stroke-width="0.8" />
<rect x="313" y="225" width="55.8" height="19" fill="#000" stroke="none" stroke-width="0" />
<line x1="368.5" y1="234.3" x2="381" y2="234.3" stroke="#555" stroke-width="1" />
<line x1="381" y1="229" x2="381" y2="240" stroke="#555" stroke-width="1" />
<rect x="313.4" y="253.3" width="8.6" height="19.5" fill="url(#pchk)" stroke="#333" stroke-width="0.8" />
<line x1="322" y1="259" x2="322.8" y2="259" stroke="#555" stroke-width="0.6" />
<line x1="323" y1="257" x2="323" y2="268" stroke="#555" stroke-width="0.8" />
<rect x="313.4" y="282.8" width="2.5" height="19" fill="#b4b4b4" stroke="#2a2a2a" stroke-width="0.9" />
<rect x="313.4" y="311.5" width="2.5" height="19.3" fill="#c4c4c4" stroke="#2a2a2a" stroke-width="0.9" />
<text x="313" y="344.4" font-size="7.3" font-weight="bold" text-anchor="middle" fill="#000" class="ss"  >0</text>
<line x1="313" y1="335" x2="313" y2="337" stroke="#000" stroke-width="0.8" />
<text x="328.8" y="344.4" font-size="7.3" font-weight="bold" text-anchor="middle" fill="#000" class="ss"  >50</text>
<line x1="328.8" y1="335" x2="328.8" y2="337" stroke="#000" stroke-width="0.8" />
<text x="345" y="344.4" font-size="7.3" font-weight="bold" text-anchor="middle" fill="#000" class="ss"  >100</text>
<line x1="345" y1="335" x2="345" y2="337" stroke="#000" stroke-width="0.8" />
<text x="361" y="344.4" font-size="7.3" font-weight="bold" text-anchor="middle" fill="#000" class="ss"  >150</text>
<line x1="361" y1="335" x2="361" y2="337" stroke="#000" stroke-width="0.8" />
<text x="377.5" y="344.4" font-size="7.3" font-weight="bold" text-anchor="middle" fill="#000" class="ss"  >200</text>
<line x1="377.5" y1="335" x2="377.5" y2="337" stroke="#000" stroke-width="0.8" />
<text x="341" y="355" font-size="10.3" font-weight="normal" text-anchor="start" fill="#000" class="ss"  >pg/mL</text>
<text x="355.5" y="256" font-size="10.3" font-weight="normal" text-anchor="start" fill="#000" class="ss"  ><tspan font-style="italic">P</tspan> = 0.02</text>
<polyline points="392.50,234.00 398.00,234.00 398.00,261.00 392.50,261.00" fill="none" stroke="#222" stroke-width="1" stroke-linejoin="round" />
<line x1="423" y1="227.5" x2="423" y2="336" stroke="#000" stroke-width="1" />
<line x1="422.5" y1="335.8" x2="494.5" y2="335.8" stroke="#000" stroke-width="1" />
<line x1="421" y1="240" x2="423" y2="240" stroke="#000" stroke-width="0.8" />
<line x1="421" y1="268" x2="423" y2="268" stroke="#000" stroke-width="0.8" />
<line x1="421" y1="295" x2="423" y2="295" stroke="#000" stroke-width="0.8" />
<line x1="421" y1="322.5" x2="423" y2="322.5" stroke="#000" stroke-width="0.8" />
<rect x="423" y="231" width="4" height="18" fill="#000" stroke="none" stroke-width="0" />
<line x1="427" y1="240" x2="428.3" y2="240" stroke="#666" stroke-width="0.8" />
<line x1="428.3" y1="235" x2="428.3" y2="245" stroke="#666" stroke-width="0.8" />
<rect x="423.4" y="259.4" width="54" height="17.8" fill="url(#pcross)" stroke="#222" stroke-width="0.8" />
<line x1="477.5" y1="267.8" x2="494.5" y2="267.8" stroke="#666" stroke-width="1" />
<line x1="494.5" y1="264" x2="494.5" y2="272.5" stroke="#666" stroke-width="1" />
<rect x="423" y="286" width="1.5" height="18" fill="#111" stroke="none" stroke-width="0" />
<rect x="423" y="314" width="1.5" height="17" fill="#111" stroke="none" stroke-width="0" />
<text x="427.6" y="297.5" font-size="11.5" font-weight="normal" text-anchor="start" fill="#000" class="ss"  >#</text>
<text x="425.8" y="326.3" font-size="11.5" font-weight="normal" text-anchor="start" fill="#000" class="ss"  >#</text>
<text x="423" y="344.7" font-size="7.3" font-weight="bold" text-anchor="middle" fill="#000" class="ss"  >0</text>
<line x1="423" y1="336" x2="423" y2="338" stroke="#000" stroke-width="0.8" />
<text x="445" y="344.7" font-size="7.3" font-weight="bold" text-anchor="middle" fill="#000" class="ss"  >400</text>
<line x1="445" y1="336" x2="445" y2="338" stroke="#000" stroke-width="0.8" />
<text x="467.5" y="344.7" font-size="7.3" font-weight="bold" text-anchor="middle" fill="#000" class="ss"  >800</text>
<line x1="467.5" y1="336" x2="467.5" y2="338" stroke="#000" stroke-width="0.8" />
<text x="490.5" y="344.7" font-size="7.3" font-weight="bold" text-anchor="middle" fill="#000" class="ss"  >1200</text>
<line x1="490.5" y1="336" x2="490.5" y2="338" stroke="#000" stroke-width="0.8" />
<text x="446.7" y="354.2" font-size="10.3" font-weight="normal" text-anchor="start" fill="#000" class="ss"  >pg/mL</text>
<text x="462.5" y="254" font-size="10.3" font-weight="normal" text-anchor="start" fill="#000" class="ss"  ><tspan font-style="italic">P</tspan> = 0.04</text>
<polyline points="500.00,239.00 505.50,239.00 505.50,267.00 500.00,267.00" fill="none" stroke="#222" stroke-width="1" stroke-linejoin="round" />
<line x1="45" y1="395" x2="45" y2="514.5" stroke="#000" stroke-width="1" />
<line x1="44.5" y1="514" x2="224" y2="514" stroke="#000" stroke-width="1" />
<text x="41.5" y="409.1" font-size="7.6" font-weight="bold" text-anchor="end" fill="#000" class="ss"  >100</text>
<line x1="43" y1="406.3" x2="45" y2="406.3" stroke="#000" stroke-width="0.8" />
<text x="41.5" y="430.8" font-size="7.6" font-weight="bold" text-anchor="end" fill="#000" class="ss"  >80</text>
<line x1="43" y1="428" x2="45" y2="428" stroke="#000" stroke-width="0.8" />
<text x="41.5" y="452.5" font-size="7.6" font-weight="bold" text-anchor="end" fill="#000" class="ss"  >60</text>
<line x1="43" y1="449.7" x2="45" y2="449.7" stroke="#000" stroke-width="0.8" />
<text x="41.5" y="474.1" font-size="7.6" font-weight="bold" text-anchor="end" fill="#000" class="ss"  >40</text>
<line x1="43" y1="471.3" x2="45" y2="471.3" stroke="#000" stroke-width="0.8" />
<text x="41.5" y="495.8" font-size="7.6" font-weight="bold" text-anchor="end" fill="#000" class="ss"  >20</text>
<line x1="43" y1="493" x2="45" y2="493" stroke="#000" stroke-width="0.8" />
<text x="41.5" y="516.8" font-size="7.6" font-weight="bold" text-anchor="end" fill="#000" class="ss"  >0</text>
<line x1="43" y1="514" x2="45" y2="514" stroke="#000" stroke-width="0.8" />
<text transform="translate(26.3,453) rotate(-90)" font-size="10.6" text-anchor="middle" class="ss">Cell survival (%)</text>
<line x1="57.75" y1="461" x2="57.75" y2="462" stroke="#444" stroke-width="0.9" />
<line x1="55.25" y1="461" x2="60.25" y2="461" stroke="#444" stroke-width="0.9" />
<rect x="53.0" y="462.5" width="9.5" height="51.5" fill="url(#pdark)" stroke="#111" stroke-width="1" />
<line x1="74.25" y1="441.8" x2="74.25" y2="443" stroke="#444" stroke-width="0.9" />
<line x1="71.75" y1="441.8" x2="76.75" y2="441.8" stroke="#444" stroke-width="0.9" />
<rect x="69.5" y="443.5" width="9.5" height="70.5" fill="url(#pvs)" stroke="#111" stroke-width="1" />
<line x1="89.75" y1="420.3" x2="89.75" y2="421" stroke="#444" stroke-width="0.9" />
<line x1="87.25" y1="420.3" x2="92.25" y2="420.3" stroke="#444" stroke-width="0.9" />
<rect x="85.0" y="421.5" width="9.5" height="92.5" fill="url(#pdot)" stroke="#111" stroke-width="1" />
<line x1="105.5" y1="409.5" x2="105.5" y2="414.5" stroke="#444" stroke-width="0.9" />
<line x1="103.0" y1="409.5" x2="108.0" y2="409.5" stroke="#444" stroke-width="0.9" />
<rect x="100.5" y="415.0" width="10" height="99.0" fill="url(#pcross)" stroke="#111" stroke-width="1" />
<line x1="120.75" y1="399.5" x2="120.75" y2="406" stroke="#444" stroke-width="0.9" />
<line x1="118.25" y1="399.5" x2="123.25" y2="399.5" stroke="#444" stroke-width="0.9" />
<rect x="115.5" y="406" width="10.5" height="108" fill="#000" stroke="none" stroke-width="0" />
<line x1="147.5" y1="474.5" x2="147.5" y2="476" stroke="#444" stroke-width="0.9" />
<line x1="145.0" y1="474.5" x2="150.0" y2="474.5" stroke="#444" stroke-width="0.9" />
<rect x="142.5" y="476.5" width="10" height="37.5" fill="url(#pdark)" stroke="#111" stroke-width="1" />
<line x1="163.1" y1="453.5" x2="163.1" y2="456.5" stroke="#444" stroke-width="0.9" />
<line x1="160.6" y1="453.5" x2="165.6" y2="453.5" stroke="#444" stroke-width="0.9" />
<rect x="158.0" y="457.0" width="10.199999999999989" height="57.0" fill="url(#pvs)" stroke="#111" stroke-width="1" />
<line x1="178.75" y1="419.6" x2="178.75" y2="420" stroke="#444" stroke-width="0.9" />
<line x1="176.25" y1="419.6" x2="181.25" y2="419.6" stroke="#444" stroke-width="0.9" />
<rect x="173.5" y="420.5" width="10.5" height="93.5" fill="url(#pdot)" stroke="#111" stroke-width="1" />
<line x1="194.75" y1="411.5" x2="194.75" y2="412" stroke="#444" stroke-width="0.9" />
<line x1="192.25" y1="411.5" x2="197.25" y2="411.5" stroke="#444" stroke-width="0.9" />
<rect x="189.5" y="412.5" width="10.5" height="101.5" fill="url(#pcross)" stroke="#111" stroke-width="1" />
<line x1="210.5" y1="399" x2="210.5" y2="406.5" stroke="#444" stroke-width="0.9" />
<line x1="208.0" y1="399" x2="213.0" y2="399" stroke="#444" stroke-width="0.9" />
<rect x="205" y="406.5" width="11" height="107.5" fill="#000" stroke="none" stroke-width="0" />
<text x="86" y="526.3" font-size="10.4" font-weight="normal" text-anchor="start" fill="#000" class="ss"  >Naive</text>
<text x="175" y="525.7" font-size="10.4" font-weight="normal" text-anchor="start" fill="#000" class="ss"  >Memory</text>
<rect x="232.4" y="436.09999999999997" width="7.2" height="7.2" fill="url(#pdark)" stroke="#222" stroke-width="0.8" />
<text x="245" y="442" font-size="9" font-weight="normal" text-anchor="start" fill="#000" class="ss"  >40:1</text>
<rect x="232.4" y="453.59999999999997" width="7.2" height="7.2" fill="url(#pvs)" stroke="#222" stroke-width="0.8" />
<text x="245" y="460" font-size="9" font-weight="normal" text-anchor="start" fill="#000" class="ss"  >20:1</text>
<rect x="232.4" y="471.09999999999997" width="7.2" height="7.2" fill="url(#pdot)" stroke="#222" stroke-width="0.8" />
<text x="245" y="478" font-size="9" font-weight="normal" text-anchor="start" fill="#000" class="ss"  >10:1</text>
<rect x="232.4" y="488.59999999999997" width="7.2" height="7.2" fill="url(#pcross)" stroke="#222" stroke-width="0.8" />
<text x="245" y="494.3" font-size="9" font-weight="normal" text-anchor="start" fill="#000" class="ss"  >5:1</text>
<rect x="232.4" y="506.7" width="7.2" height="7.2" fill="#000" stroke="#222" stroke-width="0.8" />
<text x="245" y="513.5" font-size="9" font-weight="normal" text-anchor="start" fill="#000" class="ss"  >Target only</text>
</g>
</svg></body></html>
